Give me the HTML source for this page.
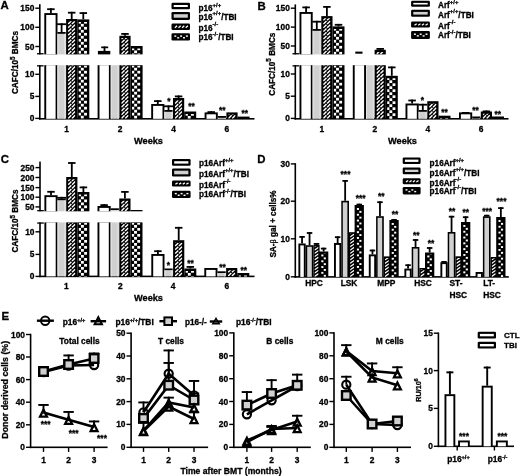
<!DOCTYPE html>
<html><head><meta charset="utf-8"><style>
html,body{margin:0;padding:0;background:#fff;width:520px;height:476px;overflow:hidden;}
svg{display:block;font-family:"Liberation Sans",sans-serif;will-change:transform;}
text{stroke:#000;stroke-width:0.3px;}
</style></head><body>
<svg width="520" height="476" viewBox="0 0 520 476" font-family="Liberation Sans, sans-serif" font-weight="bold">

<rect width="520" height="476" fill="#fff"/>
<text x="0.60" y="8.60" font-size="11.4" text-anchor="start" >A</text>
<text x="257.40" y="9.60" font-size="11.4" text-anchor="start" >B</text>
<rect x="39.00" y="4.20" width="1.60" height="50.20" fill="#000"/>
<rect x="39.00" y="65.20" width="1.60" height="54.40" fill="#000"/>
<rect x="37.00" y="53.10" width="6.60" height="1.30" fill="#000"/>
<rect x="37.00" y="65.20" width="6.60" height="1.30" fill="#000"/>
<rect x="39.00" y="118.00" width="215.50" height="1.60" fill="#000"/>
<rect x="35.30" y="7.50" width="4.50" height="1.40" fill="#000"/>
<text x="34.30" y="11.20" font-size="8.4" text-anchor="end" >150</text>
<rect x="35.30" y="26.60" width="4.50" height="1.40" fill="#000"/>
<text x="34.30" y="30.30" font-size="8.4" text-anchor="end" >100</text>
<rect x="35.30" y="45.80" width="4.50" height="1.40" fill="#000"/>
<text x="34.30" y="49.50" font-size="8.4" text-anchor="end" >50</text>
<rect x="35.30" y="73.60" width="4.50" height="1.40" fill="#000"/>
<text x="34.30" y="77.30" font-size="8.4" text-anchor="end" >10</text>
<rect x="35.30" y="95.70" width="4.50" height="1.40" fill="#000"/>
<text x="34.30" y="99.40" font-size="8.4" text-anchor="end" >5</text>
<rect x="35.30" y="117.70" width="4.50" height="1.40" fill="#000"/>
<text x="34.30" y="121.40" font-size="8.4" text-anchor="end" >0</text>
<rect x="44.30" y="13.10" width="13.20" height="41.30" fill="#000"/>
<rect x="46.20" y="15.00" width="9.40" height="39.40" fill="#fff"/>
<rect x="44.30" y="65.20" width="13.20" height="53.60" fill="#000"/>
<rect x="46.20" y="65.20" width="9.40" height="53.60" fill="#fff"/>
<rect x="50.00" y="8.30" width="1.80" height="4.80" fill="#000"/>
<rect x="47.15" y="8.30" width="7.50" height="1.80" fill="#000"/>
<rect x="57.50" y="32.00" width="8.20" height="1.90" fill="#000"/>
<rect x="57.50" y="33.90" width="8.20" height="20.50" fill="#d0d0d0"/>
<rect x="57.50" y="33.90" width="1.00" height="20.50" fill="#e4e4e4"/>
<rect x="64.30" y="33.90" width="1.00" height="20.50" fill="#e4e4e4"/>
<rect x="57.50" y="65.20" width="8.20" height="53.60" fill="#d0d0d0"/>
<rect x="57.50" y="65.20" width="1.00" height="53.60" fill="#e4e4e4"/>
<rect x="64.30" y="65.20" width="1.00" height="53.60" fill="#e4e4e4"/>
<rect x="60.70" y="23.30" width="1.80" height="8.70" fill="#000"/>
<rect x="57.10" y="23.30" width="9.00" height="1.80" fill="#000"/>
<rect x="66.10" y="19.00" width="11.20" height="35.40" fill="#000"/>
<clipPath id="c1"><rect x="67.90" y="21.20" width="7.40" height="33.20"/></clipPath><g clip-path="url(#c1)">
<line x1="68.15" y1="54.05" x2="71.30" y2="50.90" stroke="#fff" stroke-width="1.4"/>
<line x1="71.95" y1="54.05" x2="75.10" y2="50.90" stroke="#fff" stroke-width="1.4"/>
<line x1="68.15" y1="50.30" x2="71.30" y2="47.15" stroke="#fff" stroke-width="1.4"/>
<line x1="71.95" y1="50.30" x2="75.10" y2="47.15" stroke="#fff" stroke-width="1.4"/>
<line x1="68.15" y1="46.55" x2="71.30" y2="43.40" stroke="#fff" stroke-width="1.4"/>
<line x1="71.95" y1="46.55" x2="75.10" y2="43.40" stroke="#fff" stroke-width="1.4"/>
<line x1="68.15" y1="42.80" x2="71.30" y2="39.65" stroke="#fff" stroke-width="1.4"/>
<line x1="71.95" y1="42.80" x2="75.10" y2="39.65" stroke="#fff" stroke-width="1.4"/>
<line x1="68.15" y1="39.05" x2="71.30" y2="35.90" stroke="#fff" stroke-width="1.4"/>
<line x1="71.95" y1="39.05" x2="75.10" y2="35.90" stroke="#fff" stroke-width="1.4"/>
<line x1="68.15" y1="35.30" x2="71.30" y2="32.15" stroke="#fff" stroke-width="1.4"/>
<line x1="71.95" y1="35.30" x2="75.10" y2="32.15" stroke="#fff" stroke-width="1.4"/>
<line x1="68.15" y1="31.55" x2="71.30" y2="28.40" stroke="#fff" stroke-width="1.4"/>
<line x1="71.95" y1="31.55" x2="75.10" y2="28.40" stroke="#fff" stroke-width="1.4"/>
<line x1="68.15" y1="27.80" x2="71.30" y2="24.65" stroke="#fff" stroke-width="1.4"/>
<line x1="71.95" y1="27.80" x2="75.10" y2="24.65" stroke="#fff" stroke-width="1.4"/>
<line x1="68.15" y1="24.05" x2="71.30" y2="20.90" stroke="#fff" stroke-width="1.4"/>
<line x1="71.95" y1="24.05" x2="75.10" y2="20.90" stroke="#fff" stroke-width="1.4"/>
<line x1="68.15" y1="20.30" x2="71.30" y2="17.15" stroke="#fff" stroke-width="1.4"/>
<line x1="71.95" y1="20.30" x2="75.10" y2="17.15" stroke="#fff" stroke-width="1.4"/>
</g>
<rect x="66.10" y="65.20" width="11.20" height="53.60" fill="#000"/>
<clipPath id="c2"><rect x="67.90" y="65.50" width="7.40" height="53.30"/></clipPath><g clip-path="url(#c2)">
<line x1="68.15" y1="118.45" x2="71.30" y2="115.30" stroke="#fff" stroke-width="1.4"/>
<line x1="71.95" y1="118.45" x2="75.10" y2="115.30" stroke="#fff" stroke-width="1.4"/>
<line x1="68.15" y1="114.70" x2="71.30" y2="111.55" stroke="#fff" stroke-width="1.4"/>
<line x1="71.95" y1="114.70" x2="75.10" y2="111.55" stroke="#fff" stroke-width="1.4"/>
<line x1="68.15" y1="110.95" x2="71.30" y2="107.80" stroke="#fff" stroke-width="1.4"/>
<line x1="71.95" y1="110.95" x2="75.10" y2="107.80" stroke="#fff" stroke-width="1.4"/>
<line x1="68.15" y1="107.20" x2="71.30" y2="104.05" stroke="#fff" stroke-width="1.4"/>
<line x1="71.95" y1="107.20" x2="75.10" y2="104.05" stroke="#fff" stroke-width="1.4"/>
<line x1="68.15" y1="103.45" x2="71.30" y2="100.30" stroke="#fff" stroke-width="1.4"/>
<line x1="71.95" y1="103.45" x2="75.10" y2="100.30" stroke="#fff" stroke-width="1.4"/>
<line x1="68.15" y1="99.70" x2="71.30" y2="96.55" stroke="#fff" stroke-width="1.4"/>
<line x1="71.95" y1="99.70" x2="75.10" y2="96.55" stroke="#fff" stroke-width="1.4"/>
<line x1="68.15" y1="95.95" x2="71.30" y2="92.80" stroke="#fff" stroke-width="1.4"/>
<line x1="71.95" y1="95.95" x2="75.10" y2="92.80" stroke="#fff" stroke-width="1.4"/>
<line x1="68.15" y1="92.20" x2="71.30" y2="89.05" stroke="#fff" stroke-width="1.4"/>
<line x1="71.95" y1="92.20" x2="75.10" y2="89.05" stroke="#fff" stroke-width="1.4"/>
<line x1="68.15" y1="88.45" x2="71.30" y2="85.30" stroke="#fff" stroke-width="1.4"/>
<line x1="71.95" y1="88.45" x2="75.10" y2="85.30" stroke="#fff" stroke-width="1.4"/>
<line x1="68.15" y1="84.70" x2="71.30" y2="81.55" stroke="#fff" stroke-width="1.4"/>
<line x1="71.95" y1="84.70" x2="75.10" y2="81.55" stroke="#fff" stroke-width="1.4"/>
<line x1="68.15" y1="80.95" x2="71.30" y2="77.80" stroke="#fff" stroke-width="1.4"/>
<line x1="71.95" y1="80.95" x2="75.10" y2="77.80" stroke="#fff" stroke-width="1.4"/>
<line x1="68.15" y1="77.20" x2="71.30" y2="74.05" stroke="#fff" stroke-width="1.4"/>
<line x1="71.95" y1="77.20" x2="75.10" y2="74.05" stroke="#fff" stroke-width="1.4"/>
<line x1="68.15" y1="73.45" x2="71.30" y2="70.30" stroke="#fff" stroke-width="1.4"/>
<line x1="71.95" y1="73.45" x2="75.10" y2="70.30" stroke="#fff" stroke-width="1.4"/>
<line x1="68.15" y1="69.70" x2="71.30" y2="66.55" stroke="#fff" stroke-width="1.4"/>
<line x1="71.95" y1="69.70" x2="75.10" y2="66.55" stroke="#fff" stroke-width="1.4"/>
<line x1="68.15" y1="65.95" x2="71.30" y2="62.80" stroke="#fff" stroke-width="1.4"/>
<line x1="71.95" y1="65.95" x2="75.10" y2="62.80" stroke="#fff" stroke-width="1.4"/>
<line x1="68.15" y1="62.20" x2="71.30" y2="59.05" stroke="#fff" stroke-width="1.4"/>
<line x1="71.95" y1="62.20" x2="75.10" y2="59.05" stroke="#fff" stroke-width="1.4"/>
</g>
<rect x="70.80" y="11.80" width="1.80" height="7.20" fill="#000"/>
<rect x="67.95" y="11.80" width="7.50" height="1.80" fill="#000"/>
<rect x="77.30" y="19.40" width="12.00" height="35.00" fill="#000"/>
<clipPath id="c3"><rect x="78.70" y="21.90" width="8.70" height="32.50"/></clipPath><g clip-path="url(#c3)">
<rect x="80.85" y="17.90" width="2.9" height="2.7" fill="#fff"/>
<rect x="80.85" y="23.90" width="2.9" height="2.7" fill="#fff"/>
<rect x="80.85" y="29.90" width="2.9" height="2.7" fill="#fff"/>
<rect x="80.85" y="35.90" width="2.9" height="2.7" fill="#fff"/>
<rect x="80.85" y="41.90" width="2.9" height="2.7" fill="#fff"/>
<rect x="80.85" y="47.90" width="2.9" height="2.7" fill="#fff"/>
<rect x="80.85" y="53.90" width="2.9" height="2.7" fill="#fff"/>
<rect x="78.05" y="20.90" width="2.9" height="2.7" fill="#fff"/>
<rect x="78.05" y="26.90" width="2.9" height="2.7" fill="#fff"/>
<rect x="78.05" y="32.90" width="2.9" height="2.7" fill="#fff"/>
<rect x="78.05" y="38.90" width="2.9" height="2.7" fill="#fff"/>
<rect x="78.05" y="44.90" width="2.9" height="2.7" fill="#fff"/>
<rect x="78.05" y="50.90" width="2.9" height="2.7" fill="#fff"/>
<rect x="84.05" y="20.90" width="2.9" height="2.7" fill="#fff"/>
<rect x="84.05" y="26.90" width="2.9" height="2.7" fill="#fff"/>
<rect x="84.05" y="32.90" width="2.9" height="2.7" fill="#fff"/>
<rect x="84.05" y="38.90" width="2.9" height="2.7" fill="#fff"/>
<rect x="84.05" y="44.90" width="2.9" height="2.7" fill="#fff"/>
<rect x="84.05" y="50.90" width="2.9" height="2.7" fill="#fff"/>
</g>
<rect x="77.30" y="65.20" width="12.00" height="53.60" fill="#000"/>
<clipPath id="c4"><rect x="78.70" y="65.80" width="8.70" height="53.00"/></clipPath><g clip-path="url(#c4)">
<rect x="80.85" y="61.80" width="2.9" height="2.7" fill="#fff"/>
<rect x="80.85" y="67.80" width="2.9" height="2.7" fill="#fff"/>
<rect x="80.85" y="73.80" width="2.9" height="2.7" fill="#fff"/>
<rect x="80.85" y="79.80" width="2.9" height="2.7" fill="#fff"/>
<rect x="80.85" y="85.80" width="2.9" height="2.7" fill="#fff"/>
<rect x="80.85" y="91.80" width="2.9" height="2.7" fill="#fff"/>
<rect x="80.85" y="97.80" width="2.9" height="2.7" fill="#fff"/>
<rect x="80.85" y="103.80" width="2.9" height="2.7" fill="#fff"/>
<rect x="80.85" y="109.80" width="2.9" height="2.7" fill="#fff"/>
<rect x="80.85" y="115.80" width="2.9" height="2.7" fill="#fff"/>
<rect x="78.05" y="64.80" width="2.9" height="2.7" fill="#fff"/>
<rect x="78.05" y="70.80" width="2.9" height="2.7" fill="#fff"/>
<rect x="78.05" y="76.80" width="2.9" height="2.7" fill="#fff"/>
<rect x="78.05" y="82.80" width="2.9" height="2.7" fill="#fff"/>
<rect x="78.05" y="88.80" width="2.9" height="2.7" fill="#fff"/>
<rect x="78.05" y="94.80" width="2.9" height="2.7" fill="#fff"/>
<rect x="78.05" y="100.80" width="2.9" height="2.7" fill="#fff"/>
<rect x="78.05" y="106.80" width="2.9" height="2.7" fill="#fff"/>
<rect x="78.05" y="112.80" width="2.9" height="2.7" fill="#fff"/>
<rect x="84.05" y="64.80" width="2.9" height="2.7" fill="#fff"/>
<rect x="84.05" y="70.80" width="2.9" height="2.7" fill="#fff"/>
<rect x="84.05" y="76.80" width="2.9" height="2.7" fill="#fff"/>
<rect x="84.05" y="82.80" width="2.9" height="2.7" fill="#fff"/>
<rect x="84.05" y="88.80" width="2.9" height="2.7" fill="#fff"/>
<rect x="84.05" y="94.80" width="2.9" height="2.7" fill="#fff"/>
<rect x="84.05" y="100.80" width="2.9" height="2.7" fill="#fff"/>
<rect x="84.05" y="106.80" width="2.9" height="2.7" fill="#fff"/>
<rect x="84.05" y="112.80" width="2.9" height="2.7" fill="#fff"/>
</g>
<rect x="82.40" y="12.20" width="1.80" height="7.20" fill="#000"/>
<rect x="79.55" y="12.20" width="7.50" height="1.80" fill="#000"/>
<rect x="97.60" y="65.20" width="13.20" height="53.60" fill="#000"/>
<rect x="99.50" y="65.20" width="9.40" height="53.60" fill="#fff"/>
<rect x="110.80" y="65.20" width="8.20" height="53.60" fill="#d0d0d0"/>
<rect x="110.80" y="65.20" width="1.00" height="53.60" fill="#e4e4e4"/>
<rect x="117.60" y="65.20" width="1.00" height="53.60" fill="#e4e4e4"/>
<rect x="119.40" y="35.80" width="11.20" height="18.60" fill="#000"/>
<clipPath id="c5"><rect x="121.20" y="38.00" width="7.40" height="16.40"/></clipPath><g clip-path="url(#c5)">
<line x1="121.45" y1="54.05" x2="124.60" y2="50.90" stroke="#fff" stroke-width="1.4"/>
<line x1="125.25" y1="54.05" x2="128.40" y2="50.90" stroke="#fff" stroke-width="1.4"/>
<line x1="121.45" y1="50.30" x2="124.60" y2="47.15" stroke="#fff" stroke-width="1.4"/>
<line x1="125.25" y1="50.30" x2="128.40" y2="47.15" stroke="#fff" stroke-width="1.4"/>
<line x1="121.45" y1="46.55" x2="124.60" y2="43.40" stroke="#fff" stroke-width="1.4"/>
<line x1="125.25" y1="46.55" x2="128.40" y2="43.40" stroke="#fff" stroke-width="1.4"/>
<line x1="121.45" y1="42.80" x2="124.60" y2="39.65" stroke="#fff" stroke-width="1.4"/>
<line x1="125.25" y1="42.80" x2="128.40" y2="39.65" stroke="#fff" stroke-width="1.4"/>
<line x1="121.45" y1="39.05" x2="124.60" y2="35.90" stroke="#fff" stroke-width="1.4"/>
<line x1="125.25" y1="39.05" x2="128.40" y2="35.90" stroke="#fff" stroke-width="1.4"/>
<line x1="121.45" y1="35.30" x2="124.60" y2="32.15" stroke="#fff" stroke-width="1.4"/>
<line x1="125.25" y1="35.30" x2="128.40" y2="32.15" stroke="#fff" stroke-width="1.4"/>
</g>
<rect x="119.40" y="65.20" width="11.20" height="53.60" fill="#000"/>
<clipPath id="c6"><rect x="121.20" y="65.50" width="7.40" height="53.30"/></clipPath><g clip-path="url(#c6)">
<line x1="121.45" y1="118.45" x2="124.60" y2="115.30" stroke="#fff" stroke-width="1.4"/>
<line x1="125.25" y1="118.45" x2="128.40" y2="115.30" stroke="#fff" stroke-width="1.4"/>
<line x1="121.45" y1="114.70" x2="124.60" y2="111.55" stroke="#fff" stroke-width="1.4"/>
<line x1="125.25" y1="114.70" x2="128.40" y2="111.55" stroke="#fff" stroke-width="1.4"/>
<line x1="121.45" y1="110.95" x2="124.60" y2="107.80" stroke="#fff" stroke-width="1.4"/>
<line x1="125.25" y1="110.95" x2="128.40" y2="107.80" stroke="#fff" stroke-width="1.4"/>
<line x1="121.45" y1="107.20" x2="124.60" y2="104.05" stroke="#fff" stroke-width="1.4"/>
<line x1="125.25" y1="107.20" x2="128.40" y2="104.05" stroke="#fff" stroke-width="1.4"/>
<line x1="121.45" y1="103.45" x2="124.60" y2="100.30" stroke="#fff" stroke-width="1.4"/>
<line x1="125.25" y1="103.45" x2="128.40" y2="100.30" stroke="#fff" stroke-width="1.4"/>
<line x1="121.45" y1="99.70" x2="124.60" y2="96.55" stroke="#fff" stroke-width="1.4"/>
<line x1="125.25" y1="99.70" x2="128.40" y2="96.55" stroke="#fff" stroke-width="1.4"/>
<line x1="121.45" y1="95.95" x2="124.60" y2="92.80" stroke="#fff" stroke-width="1.4"/>
<line x1="125.25" y1="95.95" x2="128.40" y2="92.80" stroke="#fff" stroke-width="1.4"/>
<line x1="121.45" y1="92.20" x2="124.60" y2="89.05" stroke="#fff" stroke-width="1.4"/>
<line x1="125.25" y1="92.20" x2="128.40" y2="89.05" stroke="#fff" stroke-width="1.4"/>
<line x1="121.45" y1="88.45" x2="124.60" y2="85.30" stroke="#fff" stroke-width="1.4"/>
<line x1="125.25" y1="88.45" x2="128.40" y2="85.30" stroke="#fff" stroke-width="1.4"/>
<line x1="121.45" y1="84.70" x2="124.60" y2="81.55" stroke="#fff" stroke-width="1.4"/>
<line x1="125.25" y1="84.70" x2="128.40" y2="81.55" stroke="#fff" stroke-width="1.4"/>
<line x1="121.45" y1="80.95" x2="124.60" y2="77.80" stroke="#fff" stroke-width="1.4"/>
<line x1="125.25" y1="80.95" x2="128.40" y2="77.80" stroke="#fff" stroke-width="1.4"/>
<line x1="121.45" y1="77.20" x2="124.60" y2="74.05" stroke="#fff" stroke-width="1.4"/>
<line x1="125.25" y1="77.20" x2="128.40" y2="74.05" stroke="#fff" stroke-width="1.4"/>
<line x1="121.45" y1="73.45" x2="124.60" y2="70.30" stroke="#fff" stroke-width="1.4"/>
<line x1="125.25" y1="73.45" x2="128.40" y2="70.30" stroke="#fff" stroke-width="1.4"/>
<line x1="121.45" y1="69.70" x2="124.60" y2="66.55" stroke="#fff" stroke-width="1.4"/>
<line x1="125.25" y1="69.70" x2="128.40" y2="66.55" stroke="#fff" stroke-width="1.4"/>
<line x1="121.45" y1="65.95" x2="124.60" y2="62.80" stroke="#fff" stroke-width="1.4"/>
<line x1="125.25" y1="65.95" x2="128.40" y2="62.80" stroke="#fff" stroke-width="1.4"/>
<line x1="121.45" y1="62.20" x2="124.60" y2="59.05" stroke="#fff" stroke-width="1.4"/>
<line x1="125.25" y1="62.20" x2="128.40" y2="59.05" stroke="#fff" stroke-width="1.4"/>
</g>
<rect x="124.10" y="33.00" width="1.80" height="2.80" fill="#000"/>
<rect x="121.25" y="33.00" width="7.50" height="1.80" fill="#000"/>
<rect x="130.60" y="46.00" width="12.00" height="8.40" fill="#000"/>
<clipPath id="c7"><rect x="132.00" y="48.50" width="8.70" height="5.90"/></clipPath><g clip-path="url(#c7)">
<rect x="134.15" y="44.50" width="2.9" height="2.7" fill="#fff"/>
<rect x="134.15" y="50.50" width="2.9" height="2.7" fill="#fff"/>
<rect x="131.35" y="47.50" width="2.9" height="2.7" fill="#fff"/>
<rect x="131.35" y="53.50" width="2.9" height="2.7" fill="#fff"/>
<rect x="137.35" y="47.50" width="2.9" height="2.7" fill="#fff"/>
<rect x="137.35" y="53.50" width="2.9" height="2.7" fill="#fff"/>
</g>
<rect x="130.60" y="65.20" width="12.00" height="53.60" fill="#000"/>
<clipPath id="c8"><rect x="132.00" y="65.80" width="8.70" height="53.00"/></clipPath><g clip-path="url(#c8)">
<rect x="134.15" y="61.80" width="2.9" height="2.7" fill="#fff"/>
<rect x="134.15" y="67.80" width="2.9" height="2.7" fill="#fff"/>
<rect x="134.15" y="73.80" width="2.9" height="2.7" fill="#fff"/>
<rect x="134.15" y="79.80" width="2.9" height="2.7" fill="#fff"/>
<rect x="134.15" y="85.80" width="2.9" height="2.7" fill="#fff"/>
<rect x="134.15" y="91.80" width="2.9" height="2.7" fill="#fff"/>
<rect x="134.15" y="97.80" width="2.9" height="2.7" fill="#fff"/>
<rect x="134.15" y="103.80" width="2.9" height="2.7" fill="#fff"/>
<rect x="134.15" y="109.80" width="2.9" height="2.7" fill="#fff"/>
<rect x="134.15" y="115.80" width="2.9" height="2.7" fill="#fff"/>
<rect x="131.35" y="64.80" width="2.9" height="2.7" fill="#fff"/>
<rect x="131.35" y="70.80" width="2.9" height="2.7" fill="#fff"/>
<rect x="131.35" y="76.80" width="2.9" height="2.7" fill="#fff"/>
<rect x="131.35" y="82.80" width="2.9" height="2.7" fill="#fff"/>
<rect x="131.35" y="88.80" width="2.9" height="2.7" fill="#fff"/>
<rect x="131.35" y="94.80" width="2.9" height="2.7" fill="#fff"/>
<rect x="131.35" y="100.80" width="2.9" height="2.7" fill="#fff"/>
<rect x="131.35" y="106.80" width="2.9" height="2.7" fill="#fff"/>
<rect x="131.35" y="112.80" width="2.9" height="2.7" fill="#fff"/>
<rect x="137.35" y="64.80" width="2.9" height="2.7" fill="#fff"/>
<rect x="137.35" y="70.80" width="2.9" height="2.7" fill="#fff"/>
<rect x="137.35" y="76.80" width="2.9" height="2.7" fill="#fff"/>
<rect x="137.35" y="82.80" width="2.9" height="2.7" fill="#fff"/>
<rect x="137.35" y="88.80" width="2.9" height="2.7" fill="#fff"/>
<rect x="137.35" y="94.80" width="2.9" height="2.7" fill="#fff"/>
<rect x="137.35" y="100.80" width="2.9" height="2.7" fill="#fff"/>
<rect x="137.35" y="106.80" width="2.9" height="2.7" fill="#fff"/>
<rect x="137.35" y="112.80" width="2.9" height="2.7" fill="#fff"/>
</g>
<rect x="151.20" y="104.00" width="13.20" height="14.80" fill="#000"/>
<rect x="153.10" y="105.90" width="9.40" height="12.90" fill="#fff"/>
<rect x="156.90" y="100.20" width="1.80" height="3.80" fill="#000"/>
<rect x="154.05" y="100.20" width="7.50" height="1.80" fill="#000"/>
<rect x="164.40" y="110.00" width="8.20" height="1.90" fill="#000"/>
<rect x="164.40" y="111.90" width="8.20" height="6.90" fill="#d0d0d0"/>
<rect x="164.40" y="111.90" width="1.00" height="6.90" fill="#e4e4e4"/>
<rect x="171.20" y="111.90" width="1.00" height="6.90" fill="#e4e4e4"/>
<rect x="167.60" y="105.40" width="1.80" height="4.60" fill="#000"/>
<rect x="164.00" y="105.40" width="9.00" height="1.80" fill="#000"/>
<rect x="173.00" y="98.00" width="11.20" height="20.80" fill="#000"/>
<clipPath id="c9"><rect x="174.80" y="100.20" width="7.40" height="18.60"/></clipPath><g clip-path="url(#c9)">
<line x1="175.05" y1="118.45" x2="178.20" y2="115.30" stroke="#fff" stroke-width="1.4"/>
<line x1="178.85" y1="118.45" x2="182.00" y2="115.30" stroke="#fff" stroke-width="1.4"/>
<line x1="175.05" y1="114.70" x2="178.20" y2="111.55" stroke="#fff" stroke-width="1.4"/>
<line x1="178.85" y1="114.70" x2="182.00" y2="111.55" stroke="#fff" stroke-width="1.4"/>
<line x1="175.05" y1="110.95" x2="178.20" y2="107.80" stroke="#fff" stroke-width="1.4"/>
<line x1="178.85" y1="110.95" x2="182.00" y2="107.80" stroke="#fff" stroke-width="1.4"/>
<line x1="175.05" y1="107.20" x2="178.20" y2="104.05" stroke="#fff" stroke-width="1.4"/>
<line x1="178.85" y1="107.20" x2="182.00" y2="104.05" stroke="#fff" stroke-width="1.4"/>
<line x1="175.05" y1="103.45" x2="178.20" y2="100.30" stroke="#fff" stroke-width="1.4"/>
<line x1="178.85" y1="103.45" x2="182.00" y2="100.30" stroke="#fff" stroke-width="1.4"/>
<line x1="175.05" y1="99.70" x2="178.20" y2="96.55" stroke="#fff" stroke-width="1.4"/>
<line x1="178.85" y1="99.70" x2="182.00" y2="96.55" stroke="#fff" stroke-width="1.4"/>
</g>
<rect x="177.70" y="95.50" width="1.80" height="2.50" fill="#000"/>
<rect x="174.85" y="95.50" width="7.50" height="1.80" fill="#000"/>
<rect x="184.20" y="111.50" width="12.00" height="7.30" fill="#000"/>
<clipPath id="c10"><rect x="185.60" y="114.00" width="8.70" height="4.80"/></clipPath><g clip-path="url(#c10)">
<rect x="187.75" y="110.00" width="2.9" height="2.7" fill="#fff"/>
<rect x="187.75" y="116.00" width="2.9" height="2.7" fill="#fff"/>
<rect x="184.95" y="113.00" width="2.9" height="2.7" fill="#fff"/>
<rect x="190.95" y="113.00" width="2.9" height="2.7" fill="#fff"/>
</g>
<rect x="204.60" y="112.40" width="13.20" height="6.40" fill="#000"/>
<rect x="206.50" y="114.30" width="9.40" height="4.50" fill="#fff"/>
<rect x="210.30" y="111.20" width="1.80" height="1.20" fill="#000"/>
<rect x="207.45" y="111.20" width="7.50" height="1.80" fill="#000"/>
<rect x="217.80" y="116.00" width="8.20" height="1.90" fill="#000"/>
<rect x="217.80" y="117.90" width="8.20" height="0.90" fill="#d0d0d0"/>
<rect x="217.80" y="117.90" width="1.00" height="0.90" fill="#e4e4e4"/>
<rect x="224.60" y="117.90" width="1.00" height="0.90" fill="#e4e4e4"/>
<rect x="226.40" y="112.40" width="11.20" height="6.40" fill="#000"/>
<clipPath id="c11"><rect x="228.20" y="114.60" width="7.40" height="4.20"/></clipPath><g clip-path="url(#c11)">
<line x1="228.45" y1="118.45" x2="231.60" y2="115.30" stroke="#fff" stroke-width="1.4"/>
<line x1="232.25" y1="118.45" x2="235.40" y2="115.30" stroke="#fff" stroke-width="1.4"/>
<line x1="228.45" y1="114.70" x2="231.60" y2="111.55" stroke="#fff" stroke-width="1.4"/>
<line x1="232.25" y1="114.70" x2="235.40" y2="111.55" stroke="#fff" stroke-width="1.4"/>
<line x1="228.45" y1="110.95" x2="231.60" y2="107.80" stroke="#fff" stroke-width="1.4"/>
<line x1="232.25" y1="110.95" x2="235.40" y2="107.80" stroke="#fff" stroke-width="1.4"/>
</g>
<rect x="237.60" y="116.60" width="12.00" height="2.20" fill="#000"/>
<clipPath id="c12"><rect x="239.00" y="119.10" width="8.70" height="-0.30"/></clipPath><g clip-path="url(#c12)">
<rect x="241.15" y="115.10" width="2.9" height="2.7" fill="#fff"/>
<rect x="238.35" y="118.10" width="2.9" height="2.7" fill="#fff"/>
<rect x="244.35" y="118.10" width="2.9" height="2.7" fill="#fff"/>
</g>
<rect x="97.90" y="50.90" width="12.40" height="3.50" fill="#000"/>
<rect x="103.60" y="46.50" width="1.80" height="4.50" fill="#000"/>
<rect x="101.20" y="46.50" width="7.00" height="1.70" fill="#000"/>
<text x="66.50" y="131.90" font-size="8.4" text-anchor="middle" >1</text>
<text x="120.00" y="131.90" font-size="8.4" text-anchor="middle" >2</text>
<text x="173.50" y="131.90" font-size="8.4" text-anchor="middle" >4</text>
<text x="226.80" y="131.90" font-size="8.4" text-anchor="middle" >6</text>
<text x="148.50" y="143.80" font-size="9.2" text-anchor="middle" >Weeks</text>
<text x="169.00" y="104.00" font-size="8.4" text-anchor="middle" >*</text>
<text x="191.50" y="109.00" font-size="8.4" text-anchor="middle" >**</text>
<text x="222.30" y="113.00" font-size="8.4" text-anchor="middle" >**</text>
<text x="244.80" y="115.50" font-size="8.4" text-anchor="middle" >**</text>
<rect x="294.50" y="4.40" width="1.60" height="50.00" fill="#000"/>
<rect x="294.50" y="65.20" width="1.60" height="54.40" fill="#000"/>
<rect x="292.50" y="53.10" width="6.60" height="1.30" fill="#000"/>
<rect x="292.50" y="65.20" width="6.60" height="1.30" fill="#000"/>
<rect x="294.50" y="118.00" width="214.00" height="1.60" fill="#000"/>
<rect x="290.80" y="7.50" width="4.50" height="1.40" fill="#000"/>
<text x="289.80" y="11.20" font-size="8.4" text-anchor="end" >150</text>
<rect x="290.80" y="26.40" width="4.50" height="1.40" fill="#000"/>
<text x="289.80" y="30.10" font-size="8.4" text-anchor="end" >100</text>
<rect x="290.80" y="45.30" width="4.50" height="1.40" fill="#000"/>
<text x="289.80" y="49.00" font-size="8.4" text-anchor="end" >50</text>
<rect x="290.80" y="73.30" width="4.50" height="1.40" fill="#000"/>
<text x="289.80" y="77.00" font-size="8.4" text-anchor="end" >10</text>
<rect x="290.80" y="95.50" width="4.50" height="1.40" fill="#000"/>
<text x="289.80" y="99.20" font-size="8.4" text-anchor="end" >5</text>
<rect x="290.80" y="117.70" width="4.50" height="1.40" fill="#000"/>
<text x="289.80" y="121.40" font-size="8.4" text-anchor="end" >0</text>
<rect x="299.50" y="12.00" width="13.20" height="42.40" fill="#000"/>
<rect x="301.40" y="13.90" width="9.40" height="40.50" fill="#fff"/>
<rect x="299.50" y="65.20" width="13.20" height="53.60" fill="#000"/>
<rect x="301.40" y="65.20" width="9.40" height="53.60" fill="#fff"/>
<rect x="305.20" y="6.50" width="1.80" height="5.50" fill="#000"/>
<rect x="302.35" y="6.50" width="7.50" height="1.80" fill="#000"/>
<rect x="312.70" y="29.00" width="8.20" height="1.90" fill="#000"/>
<rect x="312.70" y="30.90" width="8.20" height="23.50" fill="#d0d0d0"/>
<rect x="312.70" y="30.90" width="1.00" height="23.50" fill="#e4e4e4"/>
<rect x="319.50" y="30.90" width="1.00" height="23.50" fill="#e4e4e4"/>
<rect x="312.70" y="65.20" width="8.20" height="53.60" fill="#d0d0d0"/>
<rect x="312.70" y="65.20" width="1.00" height="53.60" fill="#e4e4e4"/>
<rect x="319.50" y="65.20" width="1.00" height="53.60" fill="#e4e4e4"/>
<rect x="315.90" y="20.80" width="1.80" height="8.20" fill="#000"/>
<rect x="312.30" y="20.80" width="9.00" height="1.80" fill="#000"/>
<rect x="321.30" y="16.10" width="11.20" height="38.30" fill="#000"/>
<clipPath id="c13"><rect x="323.10" y="18.30" width="7.40" height="36.10"/></clipPath><g clip-path="url(#c13)">
<line x1="323.35" y1="54.05" x2="326.50" y2="50.90" stroke="#fff" stroke-width="1.4"/>
<line x1="327.15" y1="54.05" x2="330.30" y2="50.90" stroke="#fff" stroke-width="1.4"/>
<line x1="323.35" y1="50.30" x2="326.50" y2="47.15" stroke="#fff" stroke-width="1.4"/>
<line x1="327.15" y1="50.30" x2="330.30" y2="47.15" stroke="#fff" stroke-width="1.4"/>
<line x1="323.35" y1="46.55" x2="326.50" y2="43.40" stroke="#fff" stroke-width="1.4"/>
<line x1="327.15" y1="46.55" x2="330.30" y2="43.40" stroke="#fff" stroke-width="1.4"/>
<line x1="323.35" y1="42.80" x2="326.50" y2="39.65" stroke="#fff" stroke-width="1.4"/>
<line x1="327.15" y1="42.80" x2="330.30" y2="39.65" stroke="#fff" stroke-width="1.4"/>
<line x1="323.35" y1="39.05" x2="326.50" y2="35.90" stroke="#fff" stroke-width="1.4"/>
<line x1="327.15" y1="39.05" x2="330.30" y2="35.90" stroke="#fff" stroke-width="1.4"/>
<line x1="323.35" y1="35.30" x2="326.50" y2="32.15" stroke="#fff" stroke-width="1.4"/>
<line x1="327.15" y1="35.30" x2="330.30" y2="32.15" stroke="#fff" stroke-width="1.4"/>
<line x1="323.35" y1="31.55" x2="326.50" y2="28.40" stroke="#fff" stroke-width="1.4"/>
<line x1="327.15" y1="31.55" x2="330.30" y2="28.40" stroke="#fff" stroke-width="1.4"/>
<line x1="323.35" y1="27.80" x2="326.50" y2="24.65" stroke="#fff" stroke-width="1.4"/>
<line x1="327.15" y1="27.80" x2="330.30" y2="24.65" stroke="#fff" stroke-width="1.4"/>
<line x1="323.35" y1="24.05" x2="326.50" y2="20.90" stroke="#fff" stroke-width="1.4"/>
<line x1="327.15" y1="24.05" x2="330.30" y2="20.90" stroke="#fff" stroke-width="1.4"/>
<line x1="323.35" y1="20.30" x2="326.50" y2="17.15" stroke="#fff" stroke-width="1.4"/>
<line x1="327.15" y1="20.30" x2="330.30" y2="17.15" stroke="#fff" stroke-width="1.4"/>
<line x1="323.35" y1="16.55" x2="326.50" y2="13.40" stroke="#fff" stroke-width="1.4"/>
<line x1="327.15" y1="16.55" x2="330.30" y2="13.40" stroke="#fff" stroke-width="1.4"/>
</g>
<rect x="321.30" y="65.20" width="11.20" height="53.60" fill="#000"/>
<clipPath id="c14"><rect x="323.10" y="65.50" width="7.40" height="53.30"/></clipPath><g clip-path="url(#c14)">
<line x1="323.35" y1="118.45" x2="326.50" y2="115.30" stroke="#fff" stroke-width="1.4"/>
<line x1="327.15" y1="118.45" x2="330.30" y2="115.30" stroke="#fff" stroke-width="1.4"/>
<line x1="323.35" y1="114.70" x2="326.50" y2="111.55" stroke="#fff" stroke-width="1.4"/>
<line x1="327.15" y1="114.70" x2="330.30" y2="111.55" stroke="#fff" stroke-width="1.4"/>
<line x1="323.35" y1="110.95" x2="326.50" y2="107.80" stroke="#fff" stroke-width="1.4"/>
<line x1="327.15" y1="110.95" x2="330.30" y2="107.80" stroke="#fff" stroke-width="1.4"/>
<line x1="323.35" y1="107.20" x2="326.50" y2="104.05" stroke="#fff" stroke-width="1.4"/>
<line x1="327.15" y1="107.20" x2="330.30" y2="104.05" stroke="#fff" stroke-width="1.4"/>
<line x1="323.35" y1="103.45" x2="326.50" y2="100.30" stroke="#fff" stroke-width="1.4"/>
<line x1="327.15" y1="103.45" x2="330.30" y2="100.30" stroke="#fff" stroke-width="1.4"/>
<line x1="323.35" y1="99.70" x2="326.50" y2="96.55" stroke="#fff" stroke-width="1.4"/>
<line x1="327.15" y1="99.70" x2="330.30" y2="96.55" stroke="#fff" stroke-width="1.4"/>
<line x1="323.35" y1="95.95" x2="326.50" y2="92.80" stroke="#fff" stroke-width="1.4"/>
<line x1="327.15" y1="95.95" x2="330.30" y2="92.80" stroke="#fff" stroke-width="1.4"/>
<line x1="323.35" y1="92.20" x2="326.50" y2="89.05" stroke="#fff" stroke-width="1.4"/>
<line x1="327.15" y1="92.20" x2="330.30" y2="89.05" stroke="#fff" stroke-width="1.4"/>
<line x1="323.35" y1="88.45" x2="326.50" y2="85.30" stroke="#fff" stroke-width="1.4"/>
<line x1="327.15" y1="88.45" x2="330.30" y2="85.30" stroke="#fff" stroke-width="1.4"/>
<line x1="323.35" y1="84.70" x2="326.50" y2="81.55" stroke="#fff" stroke-width="1.4"/>
<line x1="327.15" y1="84.70" x2="330.30" y2="81.55" stroke="#fff" stroke-width="1.4"/>
<line x1="323.35" y1="80.95" x2="326.50" y2="77.80" stroke="#fff" stroke-width="1.4"/>
<line x1="327.15" y1="80.95" x2="330.30" y2="77.80" stroke="#fff" stroke-width="1.4"/>
<line x1="323.35" y1="77.20" x2="326.50" y2="74.05" stroke="#fff" stroke-width="1.4"/>
<line x1="327.15" y1="77.20" x2="330.30" y2="74.05" stroke="#fff" stroke-width="1.4"/>
<line x1="323.35" y1="73.45" x2="326.50" y2="70.30" stroke="#fff" stroke-width="1.4"/>
<line x1="327.15" y1="73.45" x2="330.30" y2="70.30" stroke="#fff" stroke-width="1.4"/>
<line x1="323.35" y1="69.70" x2="326.50" y2="66.55" stroke="#fff" stroke-width="1.4"/>
<line x1="327.15" y1="69.70" x2="330.30" y2="66.55" stroke="#fff" stroke-width="1.4"/>
<line x1="323.35" y1="65.95" x2="326.50" y2="62.80" stroke="#fff" stroke-width="1.4"/>
<line x1="327.15" y1="65.95" x2="330.30" y2="62.80" stroke="#fff" stroke-width="1.4"/>
<line x1="323.35" y1="62.20" x2="326.50" y2="59.05" stroke="#fff" stroke-width="1.4"/>
<line x1="327.15" y1="62.20" x2="330.30" y2="59.05" stroke="#fff" stroke-width="1.4"/>
</g>
<rect x="326.00" y="6.00" width="1.80" height="10.10" fill="#000"/>
<rect x="323.15" y="6.00" width="7.50" height="1.80" fill="#000"/>
<rect x="332.50" y="26.40" width="12.00" height="28.00" fill="#000"/>
<clipPath id="c15"><rect x="333.90" y="28.90" width="8.70" height="25.50"/></clipPath><g clip-path="url(#c15)">
<rect x="336.05" y="24.90" width="2.9" height="2.7" fill="#fff"/>
<rect x="336.05" y="30.90" width="2.9" height="2.7" fill="#fff"/>
<rect x="336.05" y="36.90" width="2.9" height="2.7" fill="#fff"/>
<rect x="336.05" y="42.90" width="2.9" height="2.7" fill="#fff"/>
<rect x="336.05" y="48.90" width="2.9" height="2.7" fill="#fff"/>
<rect x="333.25" y="27.90" width="2.9" height="2.7" fill="#fff"/>
<rect x="333.25" y="33.90" width="2.9" height="2.7" fill="#fff"/>
<rect x="333.25" y="39.90" width="2.9" height="2.7" fill="#fff"/>
<rect x="333.25" y="45.90" width="2.9" height="2.7" fill="#fff"/>
<rect x="333.25" y="51.90" width="2.9" height="2.7" fill="#fff"/>
<rect x="339.25" y="27.90" width="2.9" height="2.7" fill="#fff"/>
<rect x="339.25" y="33.90" width="2.9" height="2.7" fill="#fff"/>
<rect x="339.25" y="39.90" width="2.9" height="2.7" fill="#fff"/>
<rect x="339.25" y="45.90" width="2.9" height="2.7" fill="#fff"/>
<rect x="339.25" y="51.90" width="2.9" height="2.7" fill="#fff"/>
</g>
<rect x="332.50" y="65.20" width="12.00" height="53.60" fill="#000"/>
<clipPath id="c16"><rect x="333.90" y="65.80" width="8.70" height="53.00"/></clipPath><g clip-path="url(#c16)">
<rect x="336.05" y="61.80" width="2.9" height="2.7" fill="#fff"/>
<rect x="336.05" y="67.80" width="2.9" height="2.7" fill="#fff"/>
<rect x="336.05" y="73.80" width="2.9" height="2.7" fill="#fff"/>
<rect x="336.05" y="79.80" width="2.9" height="2.7" fill="#fff"/>
<rect x="336.05" y="85.80" width="2.9" height="2.7" fill="#fff"/>
<rect x="336.05" y="91.80" width="2.9" height="2.7" fill="#fff"/>
<rect x="336.05" y="97.80" width="2.9" height="2.7" fill="#fff"/>
<rect x="336.05" y="103.80" width="2.9" height="2.7" fill="#fff"/>
<rect x="336.05" y="109.80" width="2.9" height="2.7" fill="#fff"/>
<rect x="336.05" y="115.80" width="2.9" height="2.7" fill="#fff"/>
<rect x="333.25" y="64.80" width="2.9" height="2.7" fill="#fff"/>
<rect x="333.25" y="70.80" width="2.9" height="2.7" fill="#fff"/>
<rect x="333.25" y="76.80" width="2.9" height="2.7" fill="#fff"/>
<rect x="333.25" y="82.80" width="2.9" height="2.7" fill="#fff"/>
<rect x="333.25" y="88.80" width="2.9" height="2.7" fill="#fff"/>
<rect x="333.25" y="94.80" width="2.9" height="2.7" fill="#fff"/>
<rect x="333.25" y="100.80" width="2.9" height="2.7" fill="#fff"/>
<rect x="333.25" y="106.80" width="2.9" height="2.7" fill="#fff"/>
<rect x="333.25" y="112.80" width="2.9" height="2.7" fill="#fff"/>
<rect x="339.25" y="64.80" width="2.9" height="2.7" fill="#fff"/>
<rect x="339.25" y="70.80" width="2.9" height="2.7" fill="#fff"/>
<rect x="339.25" y="76.80" width="2.9" height="2.7" fill="#fff"/>
<rect x="339.25" y="82.80" width="2.9" height="2.7" fill="#fff"/>
<rect x="339.25" y="88.80" width="2.9" height="2.7" fill="#fff"/>
<rect x="339.25" y="94.80" width="2.9" height="2.7" fill="#fff"/>
<rect x="339.25" y="100.80" width="2.9" height="2.7" fill="#fff"/>
<rect x="339.25" y="106.80" width="2.9" height="2.7" fill="#fff"/>
<rect x="339.25" y="112.80" width="2.9" height="2.7" fill="#fff"/>
</g>
<rect x="337.60" y="23.90" width="1.80" height="2.50" fill="#000"/>
<rect x="334.75" y="23.90" width="7.50" height="1.80" fill="#000"/>
<rect x="352.80" y="65.20" width="13.20" height="53.60" fill="#000"/>
<rect x="354.70" y="65.20" width="9.40" height="53.60" fill="#fff"/>
<rect x="366.00" y="65.20" width="8.20" height="53.60" fill="#d0d0d0"/>
<rect x="366.00" y="65.20" width="1.00" height="53.60" fill="#e4e4e4"/>
<rect x="372.80" y="65.20" width="1.00" height="53.60" fill="#e4e4e4"/>
<rect x="374.60" y="49.80" width="11.20" height="4.60" fill="#000"/>
<clipPath id="c17"><rect x="376.40" y="52.00" width="7.40" height="2.40"/></clipPath><g clip-path="url(#c17)">
<line x1="376.65" y1="54.05" x2="379.80" y2="50.90" stroke="#fff" stroke-width="1.4"/>
<line x1="380.45" y1="54.05" x2="383.60" y2="50.90" stroke="#fff" stroke-width="1.4"/>
<line x1="376.65" y1="50.30" x2="379.80" y2="47.15" stroke="#fff" stroke-width="1.4"/>
<line x1="380.45" y1="50.30" x2="383.60" y2="47.15" stroke="#fff" stroke-width="1.4"/>
</g>
<rect x="374.60" y="65.20" width="11.20" height="53.60" fill="#000"/>
<clipPath id="c18"><rect x="376.40" y="65.50" width="7.40" height="53.30"/></clipPath><g clip-path="url(#c18)">
<line x1="376.65" y1="118.45" x2="379.80" y2="115.30" stroke="#fff" stroke-width="1.4"/>
<line x1="380.45" y1="118.45" x2="383.60" y2="115.30" stroke="#fff" stroke-width="1.4"/>
<line x1="376.65" y1="114.70" x2="379.80" y2="111.55" stroke="#fff" stroke-width="1.4"/>
<line x1="380.45" y1="114.70" x2="383.60" y2="111.55" stroke="#fff" stroke-width="1.4"/>
<line x1="376.65" y1="110.95" x2="379.80" y2="107.80" stroke="#fff" stroke-width="1.4"/>
<line x1="380.45" y1="110.95" x2="383.60" y2="107.80" stroke="#fff" stroke-width="1.4"/>
<line x1="376.65" y1="107.20" x2="379.80" y2="104.05" stroke="#fff" stroke-width="1.4"/>
<line x1="380.45" y1="107.20" x2="383.60" y2="104.05" stroke="#fff" stroke-width="1.4"/>
<line x1="376.65" y1="103.45" x2="379.80" y2="100.30" stroke="#fff" stroke-width="1.4"/>
<line x1="380.45" y1="103.45" x2="383.60" y2="100.30" stroke="#fff" stroke-width="1.4"/>
<line x1="376.65" y1="99.70" x2="379.80" y2="96.55" stroke="#fff" stroke-width="1.4"/>
<line x1="380.45" y1="99.70" x2="383.60" y2="96.55" stroke="#fff" stroke-width="1.4"/>
<line x1="376.65" y1="95.95" x2="379.80" y2="92.80" stroke="#fff" stroke-width="1.4"/>
<line x1="380.45" y1="95.95" x2="383.60" y2="92.80" stroke="#fff" stroke-width="1.4"/>
<line x1="376.65" y1="92.20" x2="379.80" y2="89.05" stroke="#fff" stroke-width="1.4"/>
<line x1="380.45" y1="92.20" x2="383.60" y2="89.05" stroke="#fff" stroke-width="1.4"/>
<line x1="376.65" y1="88.45" x2="379.80" y2="85.30" stroke="#fff" stroke-width="1.4"/>
<line x1="380.45" y1="88.45" x2="383.60" y2="85.30" stroke="#fff" stroke-width="1.4"/>
<line x1="376.65" y1="84.70" x2="379.80" y2="81.55" stroke="#fff" stroke-width="1.4"/>
<line x1="380.45" y1="84.70" x2="383.60" y2="81.55" stroke="#fff" stroke-width="1.4"/>
<line x1="376.65" y1="80.95" x2="379.80" y2="77.80" stroke="#fff" stroke-width="1.4"/>
<line x1="380.45" y1="80.95" x2="383.60" y2="77.80" stroke="#fff" stroke-width="1.4"/>
<line x1="376.65" y1="77.20" x2="379.80" y2="74.05" stroke="#fff" stroke-width="1.4"/>
<line x1="380.45" y1="77.20" x2="383.60" y2="74.05" stroke="#fff" stroke-width="1.4"/>
<line x1="376.65" y1="73.45" x2="379.80" y2="70.30" stroke="#fff" stroke-width="1.4"/>
<line x1="380.45" y1="73.45" x2="383.60" y2="70.30" stroke="#fff" stroke-width="1.4"/>
<line x1="376.65" y1="69.70" x2="379.80" y2="66.55" stroke="#fff" stroke-width="1.4"/>
<line x1="380.45" y1="69.70" x2="383.60" y2="66.55" stroke="#fff" stroke-width="1.4"/>
<line x1="376.65" y1="65.95" x2="379.80" y2="62.80" stroke="#fff" stroke-width="1.4"/>
<line x1="380.45" y1="65.95" x2="383.60" y2="62.80" stroke="#fff" stroke-width="1.4"/>
<line x1="376.65" y1="62.20" x2="379.80" y2="59.05" stroke="#fff" stroke-width="1.4"/>
<line x1="380.45" y1="62.20" x2="383.60" y2="59.05" stroke="#fff" stroke-width="1.4"/>
</g>
<rect x="379.30" y="48.00" width="1.80" height="1.80" fill="#000"/>
<rect x="376.45" y="48.00" width="7.50" height="1.80" fill="#000"/>
<rect x="385.80" y="75.80" width="12.00" height="43.00" fill="#000"/>
<clipPath id="c19"><rect x="387.20" y="78.30" width="8.70" height="40.50"/></clipPath><g clip-path="url(#c19)">
<rect x="389.35" y="74.30" width="2.9" height="2.7" fill="#fff"/>
<rect x="389.35" y="80.30" width="2.9" height="2.7" fill="#fff"/>
<rect x="389.35" y="86.30" width="2.9" height="2.7" fill="#fff"/>
<rect x="389.35" y="92.30" width="2.9" height="2.7" fill="#fff"/>
<rect x="389.35" y="98.30" width="2.9" height="2.7" fill="#fff"/>
<rect x="389.35" y="104.30" width="2.9" height="2.7" fill="#fff"/>
<rect x="389.35" y="110.30" width="2.9" height="2.7" fill="#fff"/>
<rect x="389.35" y="116.30" width="2.9" height="2.7" fill="#fff"/>
<rect x="386.55" y="77.30" width="2.9" height="2.7" fill="#fff"/>
<rect x="386.55" y="83.30" width="2.9" height="2.7" fill="#fff"/>
<rect x="386.55" y="89.30" width="2.9" height="2.7" fill="#fff"/>
<rect x="386.55" y="95.30" width="2.9" height="2.7" fill="#fff"/>
<rect x="386.55" y="101.30" width="2.9" height="2.7" fill="#fff"/>
<rect x="386.55" y="107.30" width="2.9" height="2.7" fill="#fff"/>
<rect x="386.55" y="113.30" width="2.9" height="2.7" fill="#fff"/>
<rect x="392.55" y="77.30" width="2.9" height="2.7" fill="#fff"/>
<rect x="392.55" y="83.30" width="2.9" height="2.7" fill="#fff"/>
<rect x="392.55" y="89.30" width="2.9" height="2.7" fill="#fff"/>
<rect x="392.55" y="95.30" width="2.9" height="2.7" fill="#fff"/>
<rect x="392.55" y="101.30" width="2.9" height="2.7" fill="#fff"/>
<rect x="392.55" y="107.30" width="2.9" height="2.7" fill="#fff"/>
<rect x="392.55" y="113.30" width="2.9" height="2.7" fill="#fff"/>
</g>
<rect x="390.90" y="66.50" width="1.80" height="9.30" fill="#000"/>
<rect x="388.05" y="66.50" width="7.50" height="1.80" fill="#000"/>
<rect x="405.50" y="103.50" width="13.20" height="15.30" fill="#000"/>
<rect x="407.40" y="105.40" width="9.40" height="13.40" fill="#fff"/>
<rect x="411.20" y="99.60" width="1.80" height="3.90" fill="#000"/>
<rect x="408.35" y="99.60" width="7.50" height="1.80" fill="#000"/>
<rect x="418.70" y="110.00" width="8.20" height="1.90" fill="#000"/>
<rect x="418.70" y="111.90" width="8.20" height="6.90" fill="#d0d0d0"/>
<rect x="418.70" y="111.90" width="1.00" height="6.90" fill="#e4e4e4"/>
<rect x="425.50" y="111.90" width="1.00" height="6.90" fill="#e4e4e4"/>
<rect x="421.90" y="103.80" width="1.80" height="6.20" fill="#000"/>
<rect x="418.30" y="103.80" width="9.00" height="1.80" fill="#000"/>
<rect x="427.30" y="101.20" width="11.20" height="17.60" fill="#000"/>
<clipPath id="c20"><rect x="429.10" y="103.40" width="7.40" height="15.40"/></clipPath><g clip-path="url(#c20)">
<line x1="429.35" y1="118.45" x2="432.50" y2="115.30" stroke="#fff" stroke-width="1.4"/>
<line x1="433.15" y1="118.45" x2="436.30" y2="115.30" stroke="#fff" stroke-width="1.4"/>
<line x1="429.35" y1="114.70" x2="432.50" y2="111.55" stroke="#fff" stroke-width="1.4"/>
<line x1="433.15" y1="114.70" x2="436.30" y2="111.55" stroke="#fff" stroke-width="1.4"/>
<line x1="429.35" y1="110.95" x2="432.50" y2="107.80" stroke="#fff" stroke-width="1.4"/>
<line x1="433.15" y1="110.95" x2="436.30" y2="107.80" stroke="#fff" stroke-width="1.4"/>
<line x1="429.35" y1="107.20" x2="432.50" y2="104.05" stroke="#fff" stroke-width="1.4"/>
<line x1="433.15" y1="107.20" x2="436.30" y2="104.05" stroke="#fff" stroke-width="1.4"/>
<line x1="429.35" y1="103.45" x2="432.50" y2="100.30" stroke="#fff" stroke-width="1.4"/>
<line x1="433.15" y1="103.45" x2="436.30" y2="100.30" stroke="#fff" stroke-width="1.4"/>
<line x1="429.35" y1="99.70" x2="432.50" y2="96.55" stroke="#fff" stroke-width="1.4"/>
<line x1="433.15" y1="99.70" x2="436.30" y2="96.55" stroke="#fff" stroke-width="1.4"/>
</g>
<rect x="438.50" y="115.70" width="12.00" height="3.10" fill="#000"/>
<clipPath id="c21"><rect x="439.90" y="118.20" width="8.70" height="0.60"/></clipPath><g clip-path="url(#c21)">
<rect x="442.05" y="114.20" width="2.9" height="2.7" fill="#fff"/>
<rect x="439.25" y="117.20" width="2.9" height="2.7" fill="#fff"/>
<rect x="445.25" y="117.20" width="2.9" height="2.7" fill="#fff"/>
</g>
<rect x="459.00" y="112.40" width="13.20" height="6.40" fill="#000"/>
<rect x="460.90" y="114.30" width="9.40" height="4.50" fill="#fff"/>
<rect x="464.70" y="112.00" width="1.80" height="0.40" fill="#000"/>
<rect x="461.85" y="112.00" width="7.50" height="1.80" fill="#000"/>
<rect x="472.20" y="116.50" width="8.20" height="1.90" fill="#000"/>
<rect x="472.20" y="118.40" width="8.20" height="0.40" fill="#d0d0d0"/>
<rect x="472.20" y="118.40" width="1.00" height="0.40" fill="#e4e4e4"/>
<rect x="479.00" y="118.40" width="1.00" height="0.40" fill="#e4e4e4"/>
<rect x="480.80" y="111.50" width="11.20" height="7.30" fill="#000"/>
<clipPath id="c22"><rect x="482.60" y="113.70" width="7.40" height="5.10"/></clipPath><g clip-path="url(#c22)">
<line x1="482.85" y1="118.45" x2="486.00" y2="115.30" stroke="#fff" stroke-width="1.4"/>
<line x1="486.65" y1="118.45" x2="489.80" y2="115.30" stroke="#fff" stroke-width="1.4"/>
<line x1="482.85" y1="114.70" x2="486.00" y2="111.55" stroke="#fff" stroke-width="1.4"/>
<line x1="486.65" y1="114.70" x2="489.80" y2="111.55" stroke="#fff" stroke-width="1.4"/>
<line x1="482.85" y1="110.95" x2="486.00" y2="107.80" stroke="#fff" stroke-width="1.4"/>
<line x1="486.65" y1="110.95" x2="489.80" y2="107.80" stroke="#fff" stroke-width="1.4"/>
</g>
<rect x="485.50" y="110.50" width="1.80" height="1.00" fill="#000"/>
<rect x="482.65" y="110.50" width="7.50" height="1.80" fill="#000"/>
<rect x="492.00" y="116.50" width="12.00" height="2.30" fill="#000"/>
<clipPath id="c23"><rect x="493.40" y="119.00" width="8.70" height="-0.20"/></clipPath><g clip-path="url(#c23)">
<rect x="495.55" y="115.00" width="2.9" height="2.7" fill="#fff"/>
<rect x="492.75" y="118.00" width="2.9" height="2.7" fill="#fff"/>
<rect x="498.75" y="118.00" width="2.9" height="2.7" fill="#fff"/>
</g>
<rect x="355.30" y="51.60" width="7.20" height="2.10" fill="#000"/>
<text x="321.80" y="131.90" font-size="8.4" text-anchor="middle" >1</text>
<text x="374.80" y="131.90" font-size="8.4" text-anchor="middle" >2</text>
<text x="427.80" y="131.90" font-size="8.4" text-anchor="middle" >4</text>
<text x="481.20" y="131.90" font-size="8.4" text-anchor="middle" >6</text>
<text x="402.50" y="143.80" font-size="9.2" text-anchor="middle" >Weeks</text>
<text x="422.50" y="103.00" font-size="8.4" text-anchor="middle" >*</text>
<text x="444.40" y="114.80" font-size="8.4" text-anchor="middle" >**</text>
<text x="475.60" y="113.30" font-size="8.4" text-anchor="middle" >**</text>
<text x="497.80" y="116.60" font-size="8.4" text-anchor="middle" >**</text>
<text transform="translate(18.3,62.5) rotate(-90)" font-size="8.2" text-anchor="middle">CAFC/10<tspan dy="-3.4" font-size="6.4">5</tspan><tspan dy="3.4"> BMCs</tspan></text>
<text transform="translate(274.6,64.2) rotate(-90)" font-size="8.2" text-anchor="middle">CAFC/10<tspan dy="-3.4" font-size="6.4">5</tspan><tspan dy="3.4"> BMCs</tspan></text>
<rect x="171.50" y="2.80" width="18.50" height="6.40" rx="1.3" fill="#000"/>
<rect x="173.70" y="5.00" width="14.10" height="2.00" fill="#fff"/>
<text x="198.50" y="11.00" font-size="8.2">p16<tspan dy="-4.5" font-size="5.9">+/+</tspan></text>
<rect x="171.50" y="12.00" width="18.50" height="7.90" rx="1.3" fill="#000"/>
<rect x="173.70" y="14.20" width="14.10" height="3.50" fill="#d0d0d0"/>
<text x="198.50" y="19.50" font-size="8.2">p16<tspan dy="-4.5" font-size="5.9">+/+</tspan><tspan dy="4.5">/TBI</tspan></text>
<rect x="171.50" y="23.50" width="18.50" height="6.50" rx="1.3" fill="#000"/>
<line x1="174.86" y1="27.70" x2="177.06" y2="25.80" stroke="#fff" stroke-width="1.3"/>
<line x1="178.47" y1="27.70" x2="180.67" y2="25.80" stroke="#fff" stroke-width="1.3"/>
<line x1="182.09" y1="27.70" x2="184.29" y2="25.80" stroke="#fff" stroke-width="1.3"/>
<line x1="185.70" y1="27.70" x2="187.90" y2="25.80" stroke="#fff" stroke-width="1.3"/>
<text x="198.50" y="30.80" font-size="8.2">p16<tspan dy="-4.5" font-size="5.9">-/-</tspan></text>
<rect x="171.50" y="33.20" width="18.50" height="7.40" rx="1.3" fill="#000"/>
<rect x="174.30" y="35.40" width="2.00" height="1.40" fill="#fff"/>
<rect x="177.20" y="37.10" width="2.00" height="1.40" fill="#fff"/>
<rect x="180.10" y="35.40" width="2.00" height="1.40" fill="#fff"/>
<rect x="183.00" y="37.10" width="2.00" height="1.40" fill="#fff"/>
<rect x="185.90" y="35.40" width="2.00" height="1.40" fill="#fff"/>
<text x="198.50" y="40.30" font-size="8.2">p16<tspan dy="-4.5" font-size="5.9">-/-</tspan><tspan dy="4.5">/TBI</tspan></text>
<rect x="411.10" y="0.70" width="18.80" height="6.00" rx="1.3" fill="#000"/>
<rect x="413.30" y="2.90" width="14.40" height="1.60" fill="#fff"/>
<text x="438.00" y="8.10" font-size="8.2">Arf<tspan dy="-4.5" font-size="5.9">+/+</tspan></text>
<rect x="411.10" y="9.70" width="18.80" height="7.10" rx="1.3" fill="#000"/>
<rect x="413.30" y="11.90" width="14.40" height="2.70" fill="#d0d0d0"/>
<text x="438.00" y="17.50" font-size="8.2">Arf<tspan dy="-4.5" font-size="5.9">+/+</tspan><tspan dy="4.5">/TBI</tspan></text>
<rect x="411.10" y="21.50" width="18.80" height="6.10" rx="1.3" fill="#000"/>
<line x1="414.50" y1="25.30" x2="416.70" y2="23.80" stroke="#fff" stroke-width="1.3"/>
<line x1="418.20" y1="25.30" x2="420.40" y2="23.80" stroke="#fff" stroke-width="1.3"/>
<line x1="421.89" y1="25.30" x2="424.09" y2="23.80" stroke="#fff" stroke-width="1.3"/>
<line x1="425.58" y1="25.30" x2="427.78" y2="23.80" stroke="#fff" stroke-width="1.3"/>
<text x="438.00" y="28.50" font-size="8.2">Arf<tspan dy="-4.5" font-size="5.9">-/-</tspan></text>
<rect x="411.10" y="31.00" width="18.80" height="8.00" rx="1.3" fill="#000"/>
<rect x="413.90" y="33.50" width="2.00" height="1.40" fill="#fff"/>
<rect x="416.80" y="35.20" width="2.00" height="1.40" fill="#fff"/>
<rect x="419.70" y="33.50" width="2.00" height="1.40" fill="#fff"/>
<rect x="422.60" y="35.20" width="2.00" height="1.40" fill="#fff"/>
<rect x="425.50" y="33.50" width="2.00" height="1.40" fill="#fff"/>
<text x="438.00" y="38.40" font-size="8.2">Arf<tspan dy="-4.5" font-size="5.9">-/-</tspan><tspan dy="4.5">/TBI</tspan></text>
<text x="0.80" y="163.00" font-size="11.4" text-anchor="start" >C</text>
<rect x="39.20" y="161.60" width="1.60" height="49.70" fill="#000"/>
<rect x="39.20" y="222.40" width="1.60" height="54.80" fill="#000"/>
<rect x="37.20" y="210.00" width="6.60" height="1.30" fill="#000"/>
<rect x="37.20" y="222.40" width="6.60" height="1.30" fill="#000"/>
<rect x="39.20" y="275.60" width="215.30" height="1.60" fill="#000"/>
<rect x="35.50" y="166.90" width="4.50" height="1.40" fill="#000"/>
<text x="34.50" y="170.60" font-size="8.4" text-anchor="end" >250</text>
<rect x="35.50" y="176.80" width="4.50" height="1.40" fill="#000"/>
<text x="34.50" y="180.50" font-size="8.4" text-anchor="end" >200</text>
<rect x="35.50" y="186.90" width="4.50" height="1.40" fill="#000"/>
<text x="34.50" y="190.60" font-size="8.4" text-anchor="end" >150</text>
<rect x="35.50" y="196.50" width="4.50" height="1.40" fill="#000"/>
<text x="34.50" y="200.20" font-size="8.4" text-anchor="end" >100</text>
<rect x="35.50" y="206.20" width="4.50" height="1.40" fill="#000"/>
<text x="34.50" y="209.90" font-size="8.4" text-anchor="end" >50</text>
<rect x="35.50" y="231.10" width="4.50" height="1.40" fill="#000"/>
<text x="34.50" y="234.80" font-size="8.4" text-anchor="end" >10</text>
<rect x="35.50" y="253.70" width="4.50" height="1.40" fill="#000"/>
<text x="34.50" y="257.40" font-size="8.4" text-anchor="end" >5</text>
<rect x="35.50" y="275.70" width="4.50" height="1.40" fill="#000"/>
<text x="34.50" y="279.40" font-size="8.4" text-anchor="end" >0</text>
<rect x="44.40" y="195.20" width="13.20" height="16.10" fill="#000"/>
<rect x="46.30" y="197.10" width="9.40" height="14.20" fill="#fff"/>
<rect x="44.40" y="222.40" width="13.20" height="54.00" fill="#000"/>
<rect x="46.30" y="222.40" width="9.40" height="54.00" fill="#fff"/>
<rect x="50.10" y="190.90" width="1.80" height="4.30" fill="#000"/>
<rect x="47.25" y="190.90" width="7.50" height="1.80" fill="#000"/>
<rect x="57.60" y="198.60" width="8.20" height="1.90" fill="#000"/>
<rect x="57.60" y="200.50" width="8.20" height="10.80" fill="#d0d0d0"/>
<rect x="57.60" y="200.50" width="1.00" height="10.80" fill="#e4e4e4"/>
<rect x="64.40" y="200.50" width="1.00" height="10.80" fill="#e4e4e4"/>
<rect x="57.60" y="222.40" width="8.20" height="54.00" fill="#d0d0d0"/>
<rect x="57.60" y="222.40" width="1.00" height="54.00" fill="#e4e4e4"/>
<rect x="64.40" y="222.40" width="1.00" height="54.00" fill="#e4e4e4"/>
<rect x="60.80" y="196.90" width="1.80" height="1.70" fill="#000"/>
<rect x="57.20" y="196.90" width="9.00" height="1.80" fill="#000"/>
<rect x="66.20" y="177.00" width="11.20" height="34.30" fill="#000"/>
<clipPath id="c24"><rect x="68.00" y="179.20" width="7.40" height="32.10"/></clipPath><g clip-path="url(#c24)">
<line x1="68.25" y1="210.95" x2="71.40" y2="207.80" stroke="#fff" stroke-width="1.4"/>
<line x1="72.05" y1="210.95" x2="75.20" y2="207.80" stroke="#fff" stroke-width="1.4"/>
<line x1="68.25" y1="207.20" x2="71.40" y2="204.05" stroke="#fff" stroke-width="1.4"/>
<line x1="72.05" y1="207.20" x2="75.20" y2="204.05" stroke="#fff" stroke-width="1.4"/>
<line x1="68.25" y1="203.45" x2="71.40" y2="200.30" stroke="#fff" stroke-width="1.4"/>
<line x1="72.05" y1="203.45" x2="75.20" y2="200.30" stroke="#fff" stroke-width="1.4"/>
<line x1="68.25" y1="199.70" x2="71.40" y2="196.55" stroke="#fff" stroke-width="1.4"/>
<line x1="72.05" y1="199.70" x2="75.20" y2="196.55" stroke="#fff" stroke-width="1.4"/>
<line x1="68.25" y1="195.95" x2="71.40" y2="192.80" stroke="#fff" stroke-width="1.4"/>
<line x1="72.05" y1="195.95" x2="75.20" y2="192.80" stroke="#fff" stroke-width="1.4"/>
<line x1="68.25" y1="192.20" x2="71.40" y2="189.05" stroke="#fff" stroke-width="1.4"/>
<line x1="72.05" y1="192.20" x2="75.20" y2="189.05" stroke="#fff" stroke-width="1.4"/>
<line x1="68.25" y1="188.45" x2="71.40" y2="185.30" stroke="#fff" stroke-width="1.4"/>
<line x1="72.05" y1="188.45" x2="75.20" y2="185.30" stroke="#fff" stroke-width="1.4"/>
<line x1="68.25" y1="184.70" x2="71.40" y2="181.55" stroke="#fff" stroke-width="1.4"/>
<line x1="72.05" y1="184.70" x2="75.20" y2="181.55" stroke="#fff" stroke-width="1.4"/>
<line x1="68.25" y1="180.95" x2="71.40" y2="177.80" stroke="#fff" stroke-width="1.4"/>
<line x1="72.05" y1="180.95" x2="75.20" y2="177.80" stroke="#fff" stroke-width="1.4"/>
<line x1="68.25" y1="177.20" x2="71.40" y2="174.05" stroke="#fff" stroke-width="1.4"/>
<line x1="72.05" y1="177.20" x2="75.20" y2="174.05" stroke="#fff" stroke-width="1.4"/>
</g>
<rect x="66.20" y="222.40" width="11.20" height="54.00" fill="#000"/>
<clipPath id="c25"><rect x="68.00" y="222.70" width="7.40" height="53.70"/></clipPath><g clip-path="url(#c25)">
<line x1="68.25" y1="276.05" x2="71.40" y2="272.90" stroke="#fff" stroke-width="1.4"/>
<line x1="72.05" y1="276.05" x2="75.20" y2="272.90" stroke="#fff" stroke-width="1.4"/>
<line x1="68.25" y1="272.30" x2="71.40" y2="269.15" stroke="#fff" stroke-width="1.4"/>
<line x1="72.05" y1="272.30" x2="75.20" y2="269.15" stroke="#fff" stroke-width="1.4"/>
<line x1="68.25" y1="268.55" x2="71.40" y2="265.40" stroke="#fff" stroke-width="1.4"/>
<line x1="72.05" y1="268.55" x2="75.20" y2="265.40" stroke="#fff" stroke-width="1.4"/>
<line x1="68.25" y1="264.80" x2="71.40" y2="261.65" stroke="#fff" stroke-width="1.4"/>
<line x1="72.05" y1="264.80" x2="75.20" y2="261.65" stroke="#fff" stroke-width="1.4"/>
<line x1="68.25" y1="261.05" x2="71.40" y2="257.90" stroke="#fff" stroke-width="1.4"/>
<line x1="72.05" y1="261.05" x2="75.20" y2="257.90" stroke="#fff" stroke-width="1.4"/>
<line x1="68.25" y1="257.30" x2="71.40" y2="254.15" stroke="#fff" stroke-width="1.4"/>
<line x1="72.05" y1="257.30" x2="75.20" y2="254.15" stroke="#fff" stroke-width="1.4"/>
<line x1="68.25" y1="253.55" x2="71.40" y2="250.40" stroke="#fff" stroke-width="1.4"/>
<line x1="72.05" y1="253.55" x2="75.20" y2="250.40" stroke="#fff" stroke-width="1.4"/>
<line x1="68.25" y1="249.80" x2="71.40" y2="246.65" stroke="#fff" stroke-width="1.4"/>
<line x1="72.05" y1="249.80" x2="75.20" y2="246.65" stroke="#fff" stroke-width="1.4"/>
<line x1="68.25" y1="246.05" x2="71.40" y2="242.90" stroke="#fff" stroke-width="1.4"/>
<line x1="72.05" y1="246.05" x2="75.20" y2="242.90" stroke="#fff" stroke-width="1.4"/>
<line x1="68.25" y1="242.30" x2="71.40" y2="239.15" stroke="#fff" stroke-width="1.4"/>
<line x1="72.05" y1="242.30" x2="75.20" y2="239.15" stroke="#fff" stroke-width="1.4"/>
<line x1="68.25" y1="238.55" x2="71.40" y2="235.40" stroke="#fff" stroke-width="1.4"/>
<line x1="72.05" y1="238.55" x2="75.20" y2="235.40" stroke="#fff" stroke-width="1.4"/>
<line x1="68.25" y1="234.80" x2="71.40" y2="231.65" stroke="#fff" stroke-width="1.4"/>
<line x1="72.05" y1="234.80" x2="75.20" y2="231.65" stroke="#fff" stroke-width="1.4"/>
<line x1="68.25" y1="231.05" x2="71.40" y2="227.90" stroke="#fff" stroke-width="1.4"/>
<line x1="72.05" y1="231.05" x2="75.20" y2="227.90" stroke="#fff" stroke-width="1.4"/>
<line x1="68.25" y1="227.30" x2="71.40" y2="224.15" stroke="#fff" stroke-width="1.4"/>
<line x1="72.05" y1="227.30" x2="75.20" y2="224.15" stroke="#fff" stroke-width="1.4"/>
<line x1="68.25" y1="223.55" x2="71.40" y2="220.40" stroke="#fff" stroke-width="1.4"/>
<line x1="72.05" y1="223.55" x2="75.20" y2="220.40" stroke="#fff" stroke-width="1.4"/>
<line x1="68.25" y1="219.80" x2="71.40" y2="216.65" stroke="#fff" stroke-width="1.4"/>
<line x1="72.05" y1="219.80" x2="75.20" y2="216.65" stroke="#fff" stroke-width="1.4"/>
</g>
<rect x="70.90" y="162.10" width="1.80" height="14.90" fill="#000"/>
<rect x="68.05" y="162.10" width="7.50" height="1.80" fill="#000"/>
<rect x="77.40" y="192.00" width="12.00" height="19.30" fill="#000"/>
<clipPath id="c26"><rect x="78.80" y="194.50" width="8.70" height="16.80"/></clipPath><g clip-path="url(#c26)">
<rect x="80.95" y="190.50" width="2.9" height="2.7" fill="#fff"/>
<rect x="80.95" y="196.50" width="2.9" height="2.7" fill="#fff"/>
<rect x="80.95" y="202.50" width="2.9" height="2.7" fill="#fff"/>
<rect x="80.95" y="208.50" width="2.9" height="2.7" fill="#fff"/>
<rect x="78.15" y="193.50" width="2.9" height="2.7" fill="#fff"/>
<rect x="78.15" y="199.50" width="2.9" height="2.7" fill="#fff"/>
<rect x="78.15" y="205.50" width="2.9" height="2.7" fill="#fff"/>
<rect x="84.15" y="193.50" width="2.9" height="2.7" fill="#fff"/>
<rect x="84.15" y="199.50" width="2.9" height="2.7" fill="#fff"/>
<rect x="84.15" y="205.50" width="2.9" height="2.7" fill="#fff"/>
</g>
<rect x="77.40" y="222.40" width="12.00" height="54.00" fill="#000"/>
<clipPath id="c27"><rect x="78.80" y="223.00" width="8.70" height="53.40"/></clipPath><g clip-path="url(#c27)">
<rect x="80.95" y="219.00" width="2.9" height="2.7" fill="#fff"/>
<rect x="80.95" y="225.00" width="2.9" height="2.7" fill="#fff"/>
<rect x="80.95" y="231.00" width="2.9" height="2.7" fill="#fff"/>
<rect x="80.95" y="237.00" width="2.9" height="2.7" fill="#fff"/>
<rect x="80.95" y="243.00" width="2.9" height="2.7" fill="#fff"/>
<rect x="80.95" y="249.00" width="2.9" height="2.7" fill="#fff"/>
<rect x="80.95" y="255.00" width="2.9" height="2.7" fill="#fff"/>
<rect x="80.95" y="261.00" width="2.9" height="2.7" fill="#fff"/>
<rect x="80.95" y="267.00" width="2.9" height="2.7" fill="#fff"/>
<rect x="80.95" y="273.00" width="2.9" height="2.7" fill="#fff"/>
<rect x="78.15" y="222.00" width="2.9" height="2.7" fill="#fff"/>
<rect x="78.15" y="228.00" width="2.9" height="2.7" fill="#fff"/>
<rect x="78.15" y="234.00" width="2.9" height="2.7" fill="#fff"/>
<rect x="78.15" y="240.00" width="2.9" height="2.7" fill="#fff"/>
<rect x="78.15" y="246.00" width="2.9" height="2.7" fill="#fff"/>
<rect x="78.15" y="252.00" width="2.9" height="2.7" fill="#fff"/>
<rect x="78.15" y="258.00" width="2.9" height="2.7" fill="#fff"/>
<rect x="78.15" y="264.00" width="2.9" height="2.7" fill="#fff"/>
<rect x="78.15" y="270.00" width="2.9" height="2.7" fill="#fff"/>
<rect x="78.15" y="276.00" width="2.9" height="2.7" fill="#fff"/>
<rect x="84.15" y="222.00" width="2.9" height="2.7" fill="#fff"/>
<rect x="84.15" y="228.00" width="2.9" height="2.7" fill="#fff"/>
<rect x="84.15" y="234.00" width="2.9" height="2.7" fill="#fff"/>
<rect x="84.15" y="240.00" width="2.9" height="2.7" fill="#fff"/>
<rect x="84.15" y="246.00" width="2.9" height="2.7" fill="#fff"/>
<rect x="84.15" y="252.00" width="2.9" height="2.7" fill="#fff"/>
<rect x="84.15" y="258.00" width="2.9" height="2.7" fill="#fff"/>
<rect x="84.15" y="264.00" width="2.9" height="2.7" fill="#fff"/>
<rect x="84.15" y="270.00" width="2.9" height="2.7" fill="#fff"/>
<rect x="84.15" y="276.00" width="2.9" height="2.7" fill="#fff"/>
</g>
<rect x="82.50" y="186.50" width="1.80" height="5.50" fill="#000"/>
<rect x="79.65" y="186.50" width="7.50" height="1.80" fill="#000"/>
<rect x="97.50" y="206.00" width="13.20" height="5.30" fill="#000"/>
<rect x="99.40" y="207.90" width="9.40" height="3.40" fill="#fff"/>
<rect x="97.50" y="222.40" width="13.20" height="54.00" fill="#000"/>
<rect x="99.40" y="222.40" width="9.40" height="54.00" fill="#fff"/>
<rect x="103.20" y="204.20" width="1.80" height="1.80" fill="#000"/>
<rect x="100.35" y="204.20" width="7.50" height="1.80" fill="#000"/>
<rect x="110.70" y="208.30" width="8.20" height="1.90" fill="#000"/>
<rect x="110.70" y="210.20" width="8.20" height="1.10" fill="#d0d0d0"/>
<rect x="110.70" y="210.20" width="1.00" height="1.10" fill="#e4e4e4"/>
<rect x="117.50" y="210.20" width="1.00" height="1.10" fill="#e4e4e4"/>
<rect x="110.70" y="222.40" width="8.20" height="54.00" fill="#d0d0d0"/>
<rect x="110.70" y="222.40" width="1.00" height="54.00" fill="#e4e4e4"/>
<rect x="117.50" y="222.40" width="1.00" height="54.00" fill="#e4e4e4"/>
<rect x="119.30" y="198.50" width="11.20" height="12.80" fill="#000"/>
<clipPath id="c28"><rect x="121.10" y="200.70" width="7.40" height="10.60"/></clipPath><g clip-path="url(#c28)">
<line x1="121.35" y1="210.95" x2="124.50" y2="207.80" stroke="#fff" stroke-width="1.4"/>
<line x1="125.15" y1="210.95" x2="128.30" y2="207.80" stroke="#fff" stroke-width="1.4"/>
<line x1="121.35" y1="207.20" x2="124.50" y2="204.05" stroke="#fff" stroke-width="1.4"/>
<line x1="125.15" y1="207.20" x2="128.30" y2="204.05" stroke="#fff" stroke-width="1.4"/>
<line x1="121.35" y1="203.45" x2="124.50" y2="200.30" stroke="#fff" stroke-width="1.4"/>
<line x1="125.15" y1="203.45" x2="128.30" y2="200.30" stroke="#fff" stroke-width="1.4"/>
<line x1="121.35" y1="199.70" x2="124.50" y2="196.55" stroke="#fff" stroke-width="1.4"/>
<line x1="125.15" y1="199.70" x2="128.30" y2="196.55" stroke="#fff" stroke-width="1.4"/>
</g>
<rect x="119.30" y="222.40" width="11.20" height="54.00" fill="#000"/>
<clipPath id="c29"><rect x="121.10" y="222.70" width="7.40" height="53.70"/></clipPath><g clip-path="url(#c29)">
<line x1="121.35" y1="276.05" x2="124.50" y2="272.90" stroke="#fff" stroke-width="1.4"/>
<line x1="125.15" y1="276.05" x2="128.30" y2="272.90" stroke="#fff" stroke-width="1.4"/>
<line x1="121.35" y1="272.30" x2="124.50" y2="269.15" stroke="#fff" stroke-width="1.4"/>
<line x1="125.15" y1="272.30" x2="128.30" y2="269.15" stroke="#fff" stroke-width="1.4"/>
<line x1="121.35" y1="268.55" x2="124.50" y2="265.40" stroke="#fff" stroke-width="1.4"/>
<line x1="125.15" y1="268.55" x2="128.30" y2="265.40" stroke="#fff" stroke-width="1.4"/>
<line x1="121.35" y1="264.80" x2="124.50" y2="261.65" stroke="#fff" stroke-width="1.4"/>
<line x1="125.15" y1="264.80" x2="128.30" y2="261.65" stroke="#fff" stroke-width="1.4"/>
<line x1="121.35" y1="261.05" x2="124.50" y2="257.90" stroke="#fff" stroke-width="1.4"/>
<line x1="125.15" y1="261.05" x2="128.30" y2="257.90" stroke="#fff" stroke-width="1.4"/>
<line x1="121.35" y1="257.30" x2="124.50" y2="254.15" stroke="#fff" stroke-width="1.4"/>
<line x1="125.15" y1="257.30" x2="128.30" y2="254.15" stroke="#fff" stroke-width="1.4"/>
<line x1="121.35" y1="253.55" x2="124.50" y2="250.40" stroke="#fff" stroke-width="1.4"/>
<line x1="125.15" y1="253.55" x2="128.30" y2="250.40" stroke="#fff" stroke-width="1.4"/>
<line x1="121.35" y1="249.80" x2="124.50" y2="246.65" stroke="#fff" stroke-width="1.4"/>
<line x1="125.15" y1="249.80" x2="128.30" y2="246.65" stroke="#fff" stroke-width="1.4"/>
<line x1="121.35" y1="246.05" x2="124.50" y2="242.90" stroke="#fff" stroke-width="1.4"/>
<line x1="125.15" y1="246.05" x2="128.30" y2="242.90" stroke="#fff" stroke-width="1.4"/>
<line x1="121.35" y1="242.30" x2="124.50" y2="239.15" stroke="#fff" stroke-width="1.4"/>
<line x1="125.15" y1="242.30" x2="128.30" y2="239.15" stroke="#fff" stroke-width="1.4"/>
<line x1="121.35" y1="238.55" x2="124.50" y2="235.40" stroke="#fff" stroke-width="1.4"/>
<line x1="125.15" y1="238.55" x2="128.30" y2="235.40" stroke="#fff" stroke-width="1.4"/>
<line x1="121.35" y1="234.80" x2="124.50" y2="231.65" stroke="#fff" stroke-width="1.4"/>
<line x1="125.15" y1="234.80" x2="128.30" y2="231.65" stroke="#fff" stroke-width="1.4"/>
<line x1="121.35" y1="231.05" x2="124.50" y2="227.90" stroke="#fff" stroke-width="1.4"/>
<line x1="125.15" y1="231.05" x2="128.30" y2="227.90" stroke="#fff" stroke-width="1.4"/>
<line x1="121.35" y1="227.30" x2="124.50" y2="224.15" stroke="#fff" stroke-width="1.4"/>
<line x1="125.15" y1="227.30" x2="128.30" y2="224.15" stroke="#fff" stroke-width="1.4"/>
<line x1="121.35" y1="223.55" x2="124.50" y2="220.40" stroke="#fff" stroke-width="1.4"/>
<line x1="125.15" y1="223.55" x2="128.30" y2="220.40" stroke="#fff" stroke-width="1.4"/>
<line x1="121.35" y1="219.80" x2="124.50" y2="216.65" stroke="#fff" stroke-width="1.4"/>
<line x1="125.15" y1="219.80" x2="128.30" y2="216.65" stroke="#fff" stroke-width="1.4"/>
</g>
<rect x="124.00" y="191.00" width="1.80" height="7.50" fill="#000"/>
<rect x="121.15" y="191.00" width="7.50" height="1.80" fill="#000"/>
<rect x="130.50" y="210.00" width="12.00" height="1.30" fill="#000"/>
<clipPath id="c30"><rect x="131.90" y="212.50" width="8.70" height="-1.20"/></clipPath><g clip-path="url(#c30)">
<rect x="134.05" y="208.50" width="2.9" height="2.7" fill="#fff"/>
</g>
<rect x="130.50" y="222.40" width="12.00" height="54.00" fill="#000"/>
<clipPath id="c31"><rect x="131.90" y="223.00" width="8.70" height="53.40"/></clipPath><g clip-path="url(#c31)">
<rect x="134.05" y="219.00" width="2.9" height="2.7" fill="#fff"/>
<rect x="134.05" y="225.00" width="2.9" height="2.7" fill="#fff"/>
<rect x="134.05" y="231.00" width="2.9" height="2.7" fill="#fff"/>
<rect x="134.05" y="237.00" width="2.9" height="2.7" fill="#fff"/>
<rect x="134.05" y="243.00" width="2.9" height="2.7" fill="#fff"/>
<rect x="134.05" y="249.00" width="2.9" height="2.7" fill="#fff"/>
<rect x="134.05" y="255.00" width="2.9" height="2.7" fill="#fff"/>
<rect x="134.05" y="261.00" width="2.9" height="2.7" fill="#fff"/>
<rect x="134.05" y="267.00" width="2.9" height="2.7" fill="#fff"/>
<rect x="134.05" y="273.00" width="2.9" height="2.7" fill="#fff"/>
<rect x="131.25" y="222.00" width="2.9" height="2.7" fill="#fff"/>
<rect x="131.25" y="228.00" width="2.9" height="2.7" fill="#fff"/>
<rect x="131.25" y="234.00" width="2.9" height="2.7" fill="#fff"/>
<rect x="131.25" y="240.00" width="2.9" height="2.7" fill="#fff"/>
<rect x="131.25" y="246.00" width="2.9" height="2.7" fill="#fff"/>
<rect x="131.25" y="252.00" width="2.9" height="2.7" fill="#fff"/>
<rect x="131.25" y="258.00" width="2.9" height="2.7" fill="#fff"/>
<rect x="131.25" y="264.00" width="2.9" height="2.7" fill="#fff"/>
<rect x="131.25" y="270.00" width="2.9" height="2.7" fill="#fff"/>
<rect x="131.25" y="276.00" width="2.9" height="2.7" fill="#fff"/>
<rect x="137.25" y="222.00" width="2.9" height="2.7" fill="#fff"/>
<rect x="137.25" y="228.00" width="2.9" height="2.7" fill="#fff"/>
<rect x="137.25" y="234.00" width="2.9" height="2.7" fill="#fff"/>
<rect x="137.25" y="240.00" width="2.9" height="2.7" fill="#fff"/>
<rect x="137.25" y="246.00" width="2.9" height="2.7" fill="#fff"/>
<rect x="137.25" y="252.00" width="2.9" height="2.7" fill="#fff"/>
<rect x="137.25" y="258.00" width="2.9" height="2.7" fill="#fff"/>
<rect x="137.25" y="264.00" width="2.9" height="2.7" fill="#fff"/>
<rect x="137.25" y="270.00" width="2.9" height="2.7" fill="#fff"/>
<rect x="137.25" y="276.00" width="2.9" height="2.7" fill="#fff"/>
</g>
<rect x="151.30" y="254.00" width="13.20" height="22.40" fill="#000"/>
<rect x="153.20" y="255.90" width="9.40" height="20.50" fill="#fff"/>
<rect x="157.00" y="250.30" width="1.80" height="3.70" fill="#000"/>
<rect x="154.15" y="250.30" width="7.50" height="1.80" fill="#000"/>
<rect x="164.50" y="268.50" width="8.20" height="1.90" fill="#000"/>
<rect x="164.50" y="270.40" width="8.20" height="6.00" fill="#d0d0d0"/>
<rect x="164.50" y="270.40" width="1.00" height="6.00" fill="#e4e4e4"/>
<rect x="171.30" y="270.40" width="1.00" height="6.00" fill="#e4e4e4"/>
<rect x="173.10" y="240.20" width="11.20" height="36.20" fill="#000"/>
<clipPath id="c32"><rect x="174.90" y="242.40" width="7.40" height="34.00"/></clipPath><g clip-path="url(#c32)">
<line x1="175.15" y1="276.05" x2="178.30" y2="272.90" stroke="#fff" stroke-width="1.4"/>
<line x1="178.95" y1="276.05" x2="182.10" y2="272.90" stroke="#fff" stroke-width="1.4"/>
<line x1="175.15" y1="272.30" x2="178.30" y2="269.15" stroke="#fff" stroke-width="1.4"/>
<line x1="178.95" y1="272.30" x2="182.10" y2="269.15" stroke="#fff" stroke-width="1.4"/>
<line x1="175.15" y1="268.55" x2="178.30" y2="265.40" stroke="#fff" stroke-width="1.4"/>
<line x1="178.95" y1="268.55" x2="182.10" y2="265.40" stroke="#fff" stroke-width="1.4"/>
<line x1="175.15" y1="264.80" x2="178.30" y2="261.65" stroke="#fff" stroke-width="1.4"/>
<line x1="178.95" y1="264.80" x2="182.10" y2="261.65" stroke="#fff" stroke-width="1.4"/>
<line x1="175.15" y1="261.05" x2="178.30" y2="257.90" stroke="#fff" stroke-width="1.4"/>
<line x1="178.95" y1="261.05" x2="182.10" y2="257.90" stroke="#fff" stroke-width="1.4"/>
<line x1="175.15" y1="257.30" x2="178.30" y2="254.15" stroke="#fff" stroke-width="1.4"/>
<line x1="178.95" y1="257.30" x2="182.10" y2="254.15" stroke="#fff" stroke-width="1.4"/>
<line x1="175.15" y1="253.55" x2="178.30" y2="250.40" stroke="#fff" stroke-width="1.4"/>
<line x1="178.95" y1="253.55" x2="182.10" y2="250.40" stroke="#fff" stroke-width="1.4"/>
<line x1="175.15" y1="249.80" x2="178.30" y2="246.65" stroke="#fff" stroke-width="1.4"/>
<line x1="178.95" y1="249.80" x2="182.10" y2="246.65" stroke="#fff" stroke-width="1.4"/>
<line x1="175.15" y1="246.05" x2="178.30" y2="242.90" stroke="#fff" stroke-width="1.4"/>
<line x1="178.95" y1="246.05" x2="182.10" y2="242.90" stroke="#fff" stroke-width="1.4"/>
<line x1="175.15" y1="242.30" x2="178.30" y2="239.15" stroke="#fff" stroke-width="1.4"/>
<line x1="178.95" y1="242.30" x2="182.10" y2="239.15" stroke="#fff" stroke-width="1.4"/>
<line x1="175.15" y1="238.55" x2="178.30" y2="235.40" stroke="#fff" stroke-width="1.4"/>
<line x1="178.95" y1="238.55" x2="182.10" y2="235.40" stroke="#fff" stroke-width="1.4"/>
</g>
<rect x="177.80" y="226.90" width="1.80" height="13.30" fill="#000"/>
<rect x="174.95" y="226.90" width="7.50" height="1.80" fill="#000"/>
<rect x="184.30" y="268.50" width="12.00" height="7.90" fill="#000"/>
<clipPath id="c33"><rect x="185.70" y="271.00" width="8.70" height="5.40"/></clipPath><g clip-path="url(#c33)">
<rect x="187.85" y="267.00" width="2.9" height="2.7" fill="#fff"/>
<rect x="187.85" y="273.00" width="2.9" height="2.7" fill="#fff"/>
<rect x="185.05" y="270.00" width="2.9" height="2.7" fill="#fff"/>
<rect x="185.05" y="276.00" width="2.9" height="2.7" fill="#fff"/>
<rect x="191.05" y="270.00" width="2.9" height="2.7" fill="#fff"/>
<rect x="191.05" y="276.00" width="2.9" height="2.7" fill="#fff"/>
</g>
<rect x="189.40" y="266.00" width="1.80" height="2.50" fill="#000"/>
<rect x="186.55" y="266.00" width="7.50" height="1.80" fill="#000"/>
<rect x="204.30" y="268.00" width="13.20" height="8.40" fill="#000"/>
<rect x="206.20" y="269.90" width="9.40" height="6.50" fill="#fff"/>
<rect x="217.50" y="271.30" width="8.20" height="1.90" fill="#000"/>
<rect x="217.50" y="273.20" width="8.20" height="3.20" fill="#d0d0d0"/>
<rect x="217.50" y="273.20" width="1.00" height="3.20" fill="#e4e4e4"/>
<rect x="224.30" y="273.20" width="1.00" height="3.20" fill="#e4e4e4"/>
<rect x="226.10" y="268.00" width="11.20" height="8.40" fill="#000"/>
<clipPath id="c34"><rect x="227.90" y="270.20" width="7.40" height="6.20"/></clipPath><g clip-path="url(#c34)">
<line x1="228.15" y1="276.05" x2="231.30" y2="272.90" stroke="#fff" stroke-width="1.4"/>
<line x1="231.95" y1="276.05" x2="235.10" y2="272.90" stroke="#fff" stroke-width="1.4"/>
<line x1="228.15" y1="272.30" x2="231.30" y2="269.15" stroke="#fff" stroke-width="1.4"/>
<line x1="231.95" y1="272.30" x2="235.10" y2="269.15" stroke="#fff" stroke-width="1.4"/>
<line x1="228.15" y1="268.55" x2="231.30" y2="265.40" stroke="#fff" stroke-width="1.4"/>
<line x1="231.95" y1="268.55" x2="235.10" y2="265.40" stroke="#fff" stroke-width="1.4"/>
</g>
<rect x="237.30" y="273.00" width="12.00" height="3.40" fill="#000"/>
<clipPath id="c35"><rect x="238.70" y="275.50" width="8.70" height="0.90"/></clipPath><g clip-path="url(#c35)">
<rect x="240.85" y="271.50" width="2.9" height="2.7" fill="#fff"/>
<rect x="238.05" y="274.50" width="2.9" height="2.7" fill="#fff"/>
<rect x="244.05" y="274.50" width="2.9" height="2.7" fill="#fff"/>
</g>
<text x="66.30" y="288.80" font-size="8.4" text-anchor="middle" >1</text>
<text x="120.40" y="288.80" font-size="8.4" text-anchor="middle" >2</text>
<text x="173.20" y="288.80" font-size="8.4" text-anchor="middle" >4</text>
<text x="226.90" y="288.80" font-size="8.4" text-anchor="middle" >6</text>
<text x="148.50" y="300.60" font-size="9.2" text-anchor="middle" >Weeks</text>
<text x="168.30" y="268.00" font-size="8.4" text-anchor="middle" >*</text>
<text x="190.40" y="265.60" font-size="8.4" text-anchor="middle" >**</text>
<text x="222.50" y="269.60" font-size="8.4" text-anchor="middle" >**</text>
<text x="243.80" y="272.50" font-size="8.4" text-anchor="middle" >**</text>
<text transform="translate(18.3,221) rotate(-90)" font-size="8.2" text-anchor="middle">CAFC/10<tspan dy="-3.4" font-size="6.4">5</tspan><tspan dy="3.4"> BMCs</tspan></text>
<rect x="172.00" y="159.00" width="18.60" height="6.80" rx="1.3" fill="#000"/>
<rect x="174.20" y="161.20" width="14.20" height="2.40" fill="#fff"/>
<text x="199.00" y="166.40" font-size="8.2">p16Arf<tspan dy="-4.5" font-size="5.9">+/+</tspan></text>
<rect x="172.00" y="168.50" width="18.60" height="8.00" rx="1.3" fill="#000"/>
<rect x="174.20" y="170.70" width="14.20" height="3.60" fill="#d0d0d0"/>
<text x="199.00" y="176.50" font-size="8.2">p16Arf<tspan dy="-4.5" font-size="5.9">+/+</tspan><tspan dy="4.5">/TBI</tspan></text>
<rect x="172.00" y="180.60" width="18.60" height="6.00" rx="1.3" fill="#000"/>
<line x1="175.37" y1="184.30" x2="177.57" y2="182.90" stroke="#fff" stroke-width="1.3"/>
<line x1="179.01" y1="184.30" x2="181.21" y2="182.90" stroke="#fff" stroke-width="1.3"/>
<line x1="182.65" y1="184.30" x2="184.85" y2="182.90" stroke="#fff" stroke-width="1.3"/>
<line x1="186.30" y1="184.30" x2="188.50" y2="182.90" stroke="#fff" stroke-width="1.3"/>
<text x="199.00" y="187.60" font-size="8.2">p16Arf<tspan dy="-4.5" font-size="5.9">-/-</tspan></text>
<rect x="172.00" y="190.70" width="18.60" height="7.40" rx="1.3" fill="#000"/>
<rect x="174.80" y="192.90" width="2.00" height="1.40" fill="#fff"/>
<rect x="177.70" y="194.60" width="2.00" height="1.40" fill="#fff"/>
<rect x="180.60" y="192.90" width="2.00" height="1.40" fill="#fff"/>
<rect x="183.50" y="194.60" width="2.00" height="1.40" fill="#fff"/>
<rect x="186.40" y="192.90" width="2.00" height="1.40" fill="#fff"/>
<text x="199.00" y="197.20" font-size="8.2">p16Arf<tspan dy="-4.5" font-size="5.9">-/-</tspan><tspan dy="4.5">/TBI</tspan></text>
<text x="257.20" y="163.40" font-size="11.4" text-anchor="start" >D</text>
<rect x="294.50" y="163.20" width="1.60" height="114.50" fill="#000"/>
<rect x="294.50" y="276.10" width="214.30" height="1.60" fill="#000"/>
<rect x="290.80" y="163.20" width="4.50" height="1.40" fill="#000"/>
<text x="289.80" y="166.90" font-size="8.4" text-anchor="end" >30</text>
<rect x="290.80" y="200.50" width="4.50" height="1.40" fill="#000"/>
<text x="289.80" y="204.20" font-size="8.4" text-anchor="end" >20</text>
<rect x="290.80" y="238.10" width="4.50" height="1.40" fill="#000"/>
<text x="289.80" y="241.80" font-size="8.4" text-anchor="end" >10</text>
<rect x="290.80" y="276.10" width="4.50" height="1.40" fill="#000"/>
<text x="289.80" y="279.80" font-size="8.4" text-anchor="end" >0</text>
<rect x="298.40" y="243.50" width="7.30" height="33.40" fill="#000"/>
<rect x="300.30" y="245.40" width="3.50" height="31.50" fill="#fff"/>
<rect x="301.15" y="236.00" width="1.80" height="7.50" fill="#000"/>
<rect x="299.30" y="236.00" width="5.50" height="1.80" fill="#000"/>
<rect x="305.70" y="245.20" width="7.70" height="31.70" fill="#000"/>
<rect x="307.20" y="246.80" width="4.60" height="30.10" fill="#d0d0d0"/>
<rect x="308.65" y="232.10" width="1.80" height="13.10" fill="#000"/>
<rect x="306.80" y="232.10" width="5.50" height="1.80" fill="#000"/>
<rect x="313.40" y="244.90" width="6.20" height="32.00" fill="#000"/>
<clipPath id="c36"><rect x="314.60" y="246.50" width="3.80" height="30.40"/></clipPath><g clip-path="url(#c36)">
<line x1="314.30" y1="276.60" x2="318.70" y2="273.60" stroke="#fff" stroke-width="1.25"/>
<line x1="314.30" y1="273.30" x2="318.70" y2="270.30" stroke="#fff" stroke-width="1.25"/>
<line x1="314.30" y1="270.00" x2="318.70" y2="267.00" stroke="#fff" stroke-width="1.25"/>
<line x1="314.30" y1="266.70" x2="318.70" y2="263.70" stroke="#fff" stroke-width="1.25"/>
<line x1="314.30" y1="263.40" x2="318.70" y2="260.40" stroke="#fff" stroke-width="1.25"/>
<line x1="314.30" y1="260.10" x2="318.70" y2="257.10" stroke="#fff" stroke-width="1.25"/>
<line x1="314.30" y1="256.80" x2="318.70" y2="253.80" stroke="#fff" stroke-width="1.25"/>
<line x1="314.30" y1="253.50" x2="318.70" y2="250.50" stroke="#fff" stroke-width="1.25"/>
<line x1="314.30" y1="250.20" x2="318.70" y2="247.20" stroke="#fff" stroke-width="1.25"/>
<line x1="314.30" y1="246.90" x2="318.70" y2="243.90" stroke="#fff" stroke-width="1.25"/>
<line x1="314.30" y1="243.60" x2="318.70" y2="240.60" stroke="#fff" stroke-width="1.25"/>
</g>
<rect x="315.60" y="243.00" width="1.80" height="1.90" fill="#000"/>
<rect x="313.75" y="243.00" width="5.50" height="1.80" fill="#000"/>
<rect x="319.00" y="251.50" width="9.30" height="25.40" fill="#000"/>
<clipPath id="c37"><rect x="320.20" y="253.50" width="6.90" height="23.40"/></clipPath><g clip-path="url(#c37)">
<rect x="321.29" y="248.70" width="2.1" height="1.9" fill="#fff"/>
<rect x="321.29" y="254.50" width="2.1" height="1.9" fill="#fff"/>
<rect x="321.29" y="260.30" width="2.1" height="1.9" fill="#fff"/>
<rect x="321.29" y="266.10" width="2.1" height="1.9" fill="#fff"/>
<rect x="321.29" y="271.90" width="2.1" height="1.9" fill="#fff"/>
<rect x="323.77" y="251.60" width="2.1" height="1.9" fill="#fff"/>
<rect x="323.77" y="257.40" width="2.1" height="1.9" fill="#fff"/>
<rect x="323.77" y="263.20" width="2.1" height="1.9" fill="#fff"/>
<rect x="323.77" y="269.00" width="2.1" height="1.9" fill="#fff"/>
<rect x="323.77" y="274.80" width="2.1" height="1.9" fill="#fff"/>
</g>
<rect x="322.75" y="247.70" width="1.80" height="3.80" fill="#000"/>
<rect x="320.90" y="247.70" width="5.50" height="1.80" fill="#000"/>
<rect x="334.00" y="243.00" width="7.30" height="33.90" fill="#000"/>
<rect x="335.90" y="244.90" width="3.50" height="32.00" fill="#fff"/>
<rect x="336.75" y="236.30" width="1.80" height="6.70" fill="#000"/>
<rect x="334.90" y="236.30" width="5.50" height="1.80" fill="#000"/>
<rect x="341.30" y="200.80" width="7.70" height="76.10" fill="#000"/>
<rect x="342.80" y="202.40" width="4.60" height="74.50" fill="#d0d0d0"/>
<rect x="344.25" y="180.00" width="1.80" height="20.80" fill="#000"/>
<rect x="342.40" y="180.00" width="5.50" height="1.80" fill="#000"/>
<rect x="349.00" y="232.20" width="6.20" height="44.70" fill="#000"/>
<clipPath id="c38"><rect x="350.20" y="233.80" width="3.80" height="43.10"/></clipPath><g clip-path="url(#c38)">
<line x1="349.90" y1="276.60" x2="354.30" y2="273.60" stroke="#fff" stroke-width="1.25"/>
<line x1="349.90" y1="273.30" x2="354.30" y2="270.30" stroke="#fff" stroke-width="1.25"/>
<line x1="349.90" y1="270.00" x2="354.30" y2="267.00" stroke="#fff" stroke-width="1.25"/>
<line x1="349.90" y1="266.70" x2="354.30" y2="263.70" stroke="#fff" stroke-width="1.25"/>
<line x1="349.90" y1="263.40" x2="354.30" y2="260.40" stroke="#fff" stroke-width="1.25"/>
<line x1="349.90" y1="260.10" x2="354.30" y2="257.10" stroke="#fff" stroke-width="1.25"/>
<line x1="349.90" y1="256.80" x2="354.30" y2="253.80" stroke="#fff" stroke-width="1.25"/>
<line x1="349.90" y1="253.50" x2="354.30" y2="250.50" stroke="#fff" stroke-width="1.25"/>
<line x1="349.90" y1="250.20" x2="354.30" y2="247.20" stroke="#fff" stroke-width="1.25"/>
<line x1="349.90" y1="246.90" x2="354.30" y2="243.90" stroke="#fff" stroke-width="1.25"/>
<line x1="349.90" y1="243.60" x2="354.30" y2="240.60" stroke="#fff" stroke-width="1.25"/>
<line x1="349.90" y1="240.30" x2="354.30" y2="237.30" stroke="#fff" stroke-width="1.25"/>
<line x1="349.90" y1="237.00" x2="354.30" y2="234.00" stroke="#fff" stroke-width="1.25"/>
<line x1="349.90" y1="233.70" x2="354.30" y2="230.70" stroke="#fff" stroke-width="1.25"/>
<line x1="349.90" y1="230.40" x2="354.30" y2="227.40" stroke="#fff" stroke-width="1.25"/>
</g>
<rect x="354.60" y="205.00" width="9.30" height="71.90" fill="#000"/>
<clipPath id="c39"><rect x="355.80" y="207.00" width="6.90" height="69.90"/></clipPath><g clip-path="url(#c39)">
<rect x="356.89" y="202.20" width="2.1" height="1.9" fill="#fff"/>
<rect x="356.89" y="208.00" width="2.1" height="1.9" fill="#fff"/>
<rect x="356.89" y="213.80" width="2.1" height="1.9" fill="#fff"/>
<rect x="356.89" y="219.60" width="2.1" height="1.9" fill="#fff"/>
<rect x="356.89" y="225.40" width="2.1" height="1.9" fill="#fff"/>
<rect x="356.89" y="231.20" width="2.1" height="1.9" fill="#fff"/>
<rect x="356.89" y="237.00" width="2.1" height="1.9" fill="#fff"/>
<rect x="356.89" y="242.80" width="2.1" height="1.9" fill="#fff"/>
<rect x="356.89" y="248.60" width="2.1" height="1.9" fill="#fff"/>
<rect x="356.89" y="254.40" width="2.1" height="1.9" fill="#fff"/>
<rect x="356.89" y="260.20" width="2.1" height="1.9" fill="#fff"/>
<rect x="356.89" y="266.00" width="2.1" height="1.9" fill="#fff"/>
<rect x="356.89" y="271.80" width="2.1" height="1.9" fill="#fff"/>
<rect x="359.37" y="205.10" width="2.1" height="1.9" fill="#fff"/>
<rect x="359.37" y="210.90" width="2.1" height="1.9" fill="#fff"/>
<rect x="359.37" y="216.70" width="2.1" height="1.9" fill="#fff"/>
<rect x="359.37" y="222.50" width="2.1" height="1.9" fill="#fff"/>
<rect x="359.37" y="228.30" width="2.1" height="1.9" fill="#fff"/>
<rect x="359.37" y="234.10" width="2.1" height="1.9" fill="#fff"/>
<rect x="359.37" y="239.90" width="2.1" height="1.9" fill="#fff"/>
<rect x="359.37" y="245.70" width="2.1" height="1.9" fill="#fff"/>
<rect x="359.37" y="251.50" width="2.1" height="1.9" fill="#fff"/>
<rect x="359.37" y="257.30" width="2.1" height="1.9" fill="#fff"/>
<rect x="359.37" y="263.10" width="2.1" height="1.9" fill="#fff"/>
<rect x="359.37" y="268.90" width="2.1" height="1.9" fill="#fff"/>
<rect x="359.37" y="274.70" width="2.1" height="1.9" fill="#fff"/>
</g>
<rect x="358.35" y="203.70" width="1.80" height="1.30" fill="#000"/>
<rect x="356.50" y="203.70" width="5.50" height="1.80" fill="#000"/>
<rect x="368.80" y="254.40" width="7.30" height="22.50" fill="#000"/>
<rect x="370.70" y="256.30" width="3.50" height="20.60" fill="#fff"/>
<rect x="371.55" y="249.60" width="1.80" height="4.80" fill="#000"/>
<rect x="369.70" y="249.60" width="5.50" height="1.80" fill="#000"/>
<rect x="376.10" y="216.20" width="7.70" height="60.70" fill="#000"/>
<rect x="377.60" y="217.80" width="4.60" height="59.10" fill="#d0d0d0"/>
<rect x="379.05" y="201.30" width="1.80" height="14.90" fill="#000"/>
<rect x="377.20" y="201.30" width="5.50" height="1.80" fill="#000"/>
<rect x="383.80" y="256.40" width="6.20" height="20.50" fill="#000"/>
<clipPath id="c40"><rect x="385.00" y="258.00" width="3.80" height="18.90"/></clipPath><g clip-path="url(#c40)">
<line x1="384.70" y1="276.60" x2="389.10" y2="273.60" stroke="#fff" stroke-width="1.25"/>
<line x1="384.70" y1="273.30" x2="389.10" y2="270.30" stroke="#fff" stroke-width="1.25"/>
<line x1="384.70" y1="270.00" x2="389.10" y2="267.00" stroke="#fff" stroke-width="1.25"/>
<line x1="384.70" y1="266.70" x2="389.10" y2="263.70" stroke="#fff" stroke-width="1.25"/>
<line x1="384.70" y1="263.40" x2="389.10" y2="260.40" stroke="#fff" stroke-width="1.25"/>
<line x1="384.70" y1="260.10" x2="389.10" y2="257.10" stroke="#fff" stroke-width="1.25"/>
<line x1="384.70" y1="256.80" x2="389.10" y2="253.80" stroke="#fff" stroke-width="1.25"/>
</g>
<rect x="389.40" y="220.00" width="9.30" height="56.90" fill="#000"/>
<clipPath id="c41"><rect x="390.60" y="222.00" width="6.90" height="54.90"/></clipPath><g clip-path="url(#c41)">
<rect x="391.69" y="217.20" width="2.1" height="1.9" fill="#fff"/>
<rect x="391.69" y="223.00" width="2.1" height="1.9" fill="#fff"/>
<rect x="391.69" y="228.80" width="2.1" height="1.9" fill="#fff"/>
<rect x="391.69" y="234.60" width="2.1" height="1.9" fill="#fff"/>
<rect x="391.69" y="240.40" width="2.1" height="1.9" fill="#fff"/>
<rect x="391.69" y="246.20" width="2.1" height="1.9" fill="#fff"/>
<rect x="391.69" y="252.00" width="2.1" height="1.9" fill="#fff"/>
<rect x="391.69" y="257.80" width="2.1" height="1.9" fill="#fff"/>
<rect x="391.69" y="263.60" width="2.1" height="1.9" fill="#fff"/>
<rect x="391.69" y="269.40" width="2.1" height="1.9" fill="#fff"/>
<rect x="391.69" y="275.20" width="2.1" height="1.9" fill="#fff"/>
<rect x="394.17" y="220.10" width="2.1" height="1.9" fill="#fff"/>
<rect x="394.17" y="225.90" width="2.1" height="1.9" fill="#fff"/>
<rect x="394.17" y="231.70" width="2.1" height="1.9" fill="#fff"/>
<rect x="394.17" y="237.50" width="2.1" height="1.9" fill="#fff"/>
<rect x="394.17" y="243.30" width="2.1" height="1.9" fill="#fff"/>
<rect x="394.17" y="249.10" width="2.1" height="1.9" fill="#fff"/>
<rect x="394.17" y="254.90" width="2.1" height="1.9" fill="#fff"/>
<rect x="394.17" y="260.70" width="2.1" height="1.9" fill="#fff"/>
<rect x="394.17" y="266.50" width="2.1" height="1.9" fill="#fff"/>
<rect x="394.17" y="272.30" width="2.1" height="1.9" fill="#fff"/>
</g>
<rect x="393.15" y="219.00" width="1.80" height="1.00" fill="#000"/>
<rect x="391.30" y="219.00" width="5.50" height="1.80" fill="#000"/>
<rect x="404.40" y="268.60" width="7.30" height="8.30" fill="#000"/>
<rect x="406.30" y="270.50" width="3.50" height="6.40" fill="#fff"/>
<rect x="407.15" y="264.30" width="1.80" height="4.30" fill="#000"/>
<rect x="405.30" y="264.30" width="5.50" height="1.80" fill="#000"/>
<rect x="411.70" y="247.00" width="7.70" height="29.90" fill="#000"/>
<rect x="413.20" y="248.60" width="4.60" height="28.30" fill="#d0d0d0"/>
<rect x="414.65" y="239.10" width="1.80" height="7.90" fill="#000"/>
<rect x="412.80" y="239.10" width="5.50" height="1.80" fill="#000"/>
<rect x="419.40" y="268.00" width="6.20" height="8.90" fill="#000"/>
<clipPath id="c42"><rect x="420.60" y="269.60" width="3.80" height="7.30"/></clipPath><g clip-path="url(#c42)">
<line x1="420.30" y1="276.60" x2="424.70" y2="273.60" stroke="#fff" stroke-width="1.25"/>
<line x1="420.30" y1="273.30" x2="424.70" y2="270.30" stroke="#fff" stroke-width="1.25"/>
<line x1="420.30" y1="270.00" x2="424.70" y2="267.00" stroke="#fff" stroke-width="1.25"/>
<line x1="420.30" y1="266.70" x2="424.70" y2="263.70" stroke="#fff" stroke-width="1.25"/>
</g>
<rect x="425.00" y="252.50" width="9.30" height="24.40" fill="#000"/>
<clipPath id="c43"><rect x="426.20" y="254.50" width="6.90" height="22.40"/></clipPath><g clip-path="url(#c43)">
<rect x="427.29" y="249.70" width="2.1" height="1.9" fill="#fff"/>
<rect x="427.29" y="255.50" width="2.1" height="1.9" fill="#fff"/>
<rect x="427.29" y="261.30" width="2.1" height="1.9" fill="#fff"/>
<rect x="427.29" y="267.10" width="2.1" height="1.9" fill="#fff"/>
<rect x="427.29" y="272.90" width="2.1" height="1.9" fill="#fff"/>
<rect x="429.77" y="252.60" width="2.1" height="1.9" fill="#fff"/>
<rect x="429.77" y="258.40" width="2.1" height="1.9" fill="#fff"/>
<rect x="429.77" y="264.20" width="2.1" height="1.9" fill="#fff"/>
<rect x="429.77" y="270.00" width="2.1" height="1.9" fill="#fff"/>
<rect x="429.77" y="275.80" width="2.1" height="1.9" fill="#fff"/>
</g>
<rect x="428.75" y="247.10" width="1.80" height="5.40" fill="#000"/>
<rect x="426.90" y="247.10" width="5.50" height="1.80" fill="#000"/>
<rect x="440.40" y="262.20" width="7.30" height="14.70" fill="#000"/>
<rect x="442.30" y="264.10" width="3.50" height="12.80" fill="#fff"/>
<rect x="443.15" y="261.00" width="1.80" height="1.20" fill="#000"/>
<rect x="441.30" y="261.00" width="5.50" height="1.80" fill="#000"/>
<rect x="447.70" y="232.00" width="7.70" height="44.90" fill="#000"/>
<rect x="449.20" y="233.60" width="4.60" height="43.30" fill="#d0d0d0"/>
<rect x="450.65" y="215.80" width="1.80" height="16.20" fill="#000"/>
<rect x="448.80" y="215.80" width="5.50" height="1.80" fill="#000"/>
<rect x="455.40" y="256.30" width="6.20" height="20.60" fill="#000"/>
<clipPath id="c44"><rect x="456.60" y="257.90" width="3.80" height="19.00"/></clipPath><g clip-path="url(#c44)">
<line x1="456.30" y1="276.60" x2="460.70" y2="273.60" stroke="#fff" stroke-width="1.25"/>
<line x1="456.30" y1="273.30" x2="460.70" y2="270.30" stroke="#fff" stroke-width="1.25"/>
<line x1="456.30" y1="270.00" x2="460.70" y2="267.00" stroke="#fff" stroke-width="1.25"/>
<line x1="456.30" y1="266.70" x2="460.70" y2="263.70" stroke="#fff" stroke-width="1.25"/>
<line x1="456.30" y1="263.40" x2="460.70" y2="260.40" stroke="#fff" stroke-width="1.25"/>
<line x1="456.30" y1="260.10" x2="460.70" y2="257.10" stroke="#fff" stroke-width="1.25"/>
<line x1="456.30" y1="256.80" x2="460.70" y2="253.80" stroke="#fff" stroke-width="1.25"/>
</g>
<rect x="461.00" y="222.00" width="9.30" height="54.90" fill="#000"/>
<clipPath id="c45"><rect x="462.20" y="224.00" width="6.90" height="52.90"/></clipPath><g clip-path="url(#c45)">
<rect x="463.29" y="219.20" width="2.1" height="1.9" fill="#fff"/>
<rect x="463.29" y="225.00" width="2.1" height="1.9" fill="#fff"/>
<rect x="463.29" y="230.80" width="2.1" height="1.9" fill="#fff"/>
<rect x="463.29" y="236.60" width="2.1" height="1.9" fill="#fff"/>
<rect x="463.29" y="242.40" width="2.1" height="1.9" fill="#fff"/>
<rect x="463.29" y="248.20" width="2.1" height="1.9" fill="#fff"/>
<rect x="463.29" y="254.00" width="2.1" height="1.9" fill="#fff"/>
<rect x="463.29" y="259.80" width="2.1" height="1.9" fill="#fff"/>
<rect x="463.29" y="265.60" width="2.1" height="1.9" fill="#fff"/>
<rect x="463.29" y="271.40" width="2.1" height="1.9" fill="#fff"/>
<rect x="465.77" y="222.10" width="2.1" height="1.9" fill="#fff"/>
<rect x="465.77" y="227.90" width="2.1" height="1.9" fill="#fff"/>
<rect x="465.77" y="233.70" width="2.1" height="1.9" fill="#fff"/>
<rect x="465.77" y="239.50" width="2.1" height="1.9" fill="#fff"/>
<rect x="465.77" y="245.30" width="2.1" height="1.9" fill="#fff"/>
<rect x="465.77" y="251.10" width="2.1" height="1.9" fill="#fff"/>
<rect x="465.77" y="256.90" width="2.1" height="1.9" fill="#fff"/>
<rect x="465.77" y="262.70" width="2.1" height="1.9" fill="#fff"/>
<rect x="465.77" y="268.50" width="2.1" height="1.9" fill="#fff"/>
<rect x="465.77" y="274.30" width="2.1" height="1.9" fill="#fff"/>
</g>
<rect x="464.75" y="216.30" width="1.80" height="5.70" fill="#000"/>
<rect x="462.90" y="216.30" width="5.50" height="1.80" fill="#000"/>
<rect x="475.60" y="272.00" width="7.30" height="4.90" fill="#000"/>
<rect x="477.50" y="273.90" width="3.50" height="3.00" fill="#fff"/>
<rect x="482.90" y="216.30" width="7.70" height="60.60" fill="#000"/>
<rect x="484.40" y="217.90" width="4.60" height="59.00" fill="#d0d0d0"/>
<rect x="485.85" y="214.80" width="1.80" height="1.50" fill="#000"/>
<rect x="484.00" y="214.80" width="5.50" height="1.80" fill="#000"/>
<rect x="490.60" y="257.00" width="6.20" height="19.90" fill="#000"/>
<clipPath id="c46"><rect x="491.80" y="258.60" width="3.80" height="18.30"/></clipPath><g clip-path="url(#c46)">
<line x1="491.50" y1="276.60" x2="495.90" y2="273.60" stroke="#fff" stroke-width="1.25"/>
<line x1="491.50" y1="273.30" x2="495.90" y2="270.30" stroke="#fff" stroke-width="1.25"/>
<line x1="491.50" y1="270.00" x2="495.90" y2="267.00" stroke="#fff" stroke-width="1.25"/>
<line x1="491.50" y1="266.70" x2="495.90" y2="263.70" stroke="#fff" stroke-width="1.25"/>
<line x1="491.50" y1="263.40" x2="495.90" y2="260.40" stroke="#fff" stroke-width="1.25"/>
<line x1="491.50" y1="260.10" x2="495.90" y2="257.10" stroke="#fff" stroke-width="1.25"/>
<line x1="491.50" y1="256.80" x2="495.90" y2="253.80" stroke="#fff" stroke-width="1.25"/>
</g>
<rect x="496.20" y="217.00" width="9.30" height="59.90" fill="#000"/>
<clipPath id="c47"><rect x="497.40" y="219.00" width="6.90" height="57.90"/></clipPath><g clip-path="url(#c47)">
<rect x="498.49" y="214.20" width="2.1" height="1.9" fill="#fff"/>
<rect x="498.49" y="220.00" width="2.1" height="1.9" fill="#fff"/>
<rect x="498.49" y="225.80" width="2.1" height="1.9" fill="#fff"/>
<rect x="498.49" y="231.60" width="2.1" height="1.9" fill="#fff"/>
<rect x="498.49" y="237.40" width="2.1" height="1.9" fill="#fff"/>
<rect x="498.49" y="243.20" width="2.1" height="1.9" fill="#fff"/>
<rect x="498.49" y="249.00" width="2.1" height="1.9" fill="#fff"/>
<rect x="498.49" y="254.80" width="2.1" height="1.9" fill="#fff"/>
<rect x="498.49" y="260.60" width="2.1" height="1.9" fill="#fff"/>
<rect x="498.49" y="266.40" width="2.1" height="1.9" fill="#fff"/>
<rect x="498.49" y="272.20" width="2.1" height="1.9" fill="#fff"/>
<rect x="500.97" y="217.10" width="2.1" height="1.9" fill="#fff"/>
<rect x="500.97" y="222.90" width="2.1" height="1.9" fill="#fff"/>
<rect x="500.97" y="228.70" width="2.1" height="1.9" fill="#fff"/>
<rect x="500.97" y="234.50" width="2.1" height="1.9" fill="#fff"/>
<rect x="500.97" y="240.30" width="2.1" height="1.9" fill="#fff"/>
<rect x="500.97" y="246.10" width="2.1" height="1.9" fill="#fff"/>
<rect x="500.97" y="251.90" width="2.1" height="1.9" fill="#fff"/>
<rect x="500.97" y="257.70" width="2.1" height="1.9" fill="#fff"/>
<rect x="500.97" y="263.50" width="2.1" height="1.9" fill="#fff"/>
<rect x="500.97" y="269.30" width="2.1" height="1.9" fill="#fff"/>
<rect x="500.97" y="275.10" width="2.1" height="1.9" fill="#fff"/>
</g>
<rect x="499.95" y="207.20" width="1.80" height="9.80" fill="#000"/>
<rect x="498.10" y="207.20" width="5.50" height="1.80" fill="#000"/>
<text x="345.50" y="176.90" font-size="8.4" text-anchor="middle" >***</text>
<text x="360.60" y="201.00" font-size="8.4" text-anchor="middle" >***</text>
<text x="381.30" y="198.60" font-size="8.4" text-anchor="middle" >**</text>
<text x="395.00" y="216.70" font-size="8.4" text-anchor="middle" >**</text>
<text x="416.20" y="237.60" font-size="8.4" text-anchor="middle" >**</text>
<text x="431.00" y="246.30" font-size="8.4" text-anchor="middle" >**</text>
<text x="452.00" y="213.60" font-size="8.4" text-anchor="middle" >**</text>
<text x="465.70" y="215.10" font-size="8.4" text-anchor="middle" >**</text>
<text x="487.20" y="213.60" font-size="8.4" text-anchor="middle" >***</text>
<text x="501.50" y="203.60" font-size="8.4" text-anchor="middle" >***</text>
<text x="314.00" y="286.40" font-size="8.4" text-anchor="middle" >HPC</text>
<text x="349.00" y="286.40" font-size="8.4" text-anchor="middle" >LSK</text>
<text x="386.30" y="286.40" font-size="8.4" text-anchor="middle" >MPP</text>
<text x="423.00" y="286.40" font-size="8.4" text-anchor="middle" >HSC</text>
<text x="449.40" y="286.40" font-size="8.4" text-anchor="start" >ST-</text>
<text x="449.40" y="298.30" font-size="8.4" text-anchor="start" >HSC</text>
<text x="483.20" y="286.40" font-size="8.4" text-anchor="start" >LT-</text>
<text x="483.20" y="298.30" font-size="8.4" text-anchor="start" >HSC</text>
<text transform="translate(276.4,224) rotate(-90)" font-size="8.2" text-anchor="middle">SA-<tspan font-family="Liberation Serif, serif" font-weight="normal">&#946;</tspan> gal + cells%</text>
<rect x="402.70" y="157.40" width="17.90" height="6.70" rx="1.3" fill="#000"/>
<rect x="404.90" y="159.60" width="13.50" height="2.30" fill="#fff"/>
<text x="429.60" y="166.10" font-size="8.2">p16Arf<tspan dy="-4.5" font-size="5.9">+/+</tspan></text>
<rect x="402.70" y="167.50" width="17.90" height="6.70" rx="1.3" fill="#000"/>
<rect x="404.90" y="169.70" width="13.50" height="2.30" fill="#d0d0d0"/>
<text x="429.60" y="175.60" font-size="8.2">p16Arf<tspan dy="-4.5" font-size="5.9">+/+</tspan><tspan dy="4.5">/TBI</tspan></text>
<rect x="402.70" y="178.20" width="17.90" height="6.10" rx="1.3" fill="#000"/>
<line x1="405.96" y1="182.00" x2="408.16" y2="180.50" stroke="#fff" stroke-width="1.3"/>
<line x1="409.42" y1="182.00" x2="411.62" y2="180.50" stroke="#fff" stroke-width="1.3"/>
<line x1="412.88" y1="182.00" x2="415.08" y2="180.50" stroke="#fff" stroke-width="1.3"/>
<line x1="416.34" y1="182.00" x2="418.54" y2="180.50" stroke="#fff" stroke-width="1.3"/>
<text x="429.60" y="185.60" font-size="8.2">p16Arf<tspan dy="-4.5" font-size="5.9">-/-</tspan></text>
<rect x="402.70" y="187.00" width="17.90" height="7.40" rx="1.3" fill="#000"/>
<rect x="405.50" y="189.20" width="2.00" height="1.40" fill="#fff"/>
<rect x="408.40" y="190.90" width="2.00" height="1.40" fill="#fff"/>
<rect x="411.30" y="189.20" width="2.00" height="1.40" fill="#fff"/>
<rect x="414.20" y="190.90" width="2.00" height="1.40" fill="#fff"/>
<text x="429.60" y="193.70" font-size="8.2">p16Arf<tspan dy="-4.5" font-size="5.9">-/-</tspan><tspan dy="4.5">/TBI</tspan></text>
<text x="1.60" y="320.40" font-size="11.4" text-anchor="start" >E</text>
<rect x="29.80" y="333.80" width="1.60" height="114.30" fill="#000"/>
<rect x="29.80" y="446.50" width="77.80" height="1.60" fill="#000"/>
<rect x="26.00" y="333.80" width="4.60" height="1.40" fill="#000"/>
<text x="25.00" y="337.50" font-size="8.4" text-anchor="end" >100</text>
<rect x="26.00" y="356.30" width="4.60" height="1.40" fill="#000"/>
<text x="25.00" y="360.00" font-size="8.4" text-anchor="end" >80</text>
<rect x="26.00" y="378.90" width="4.60" height="1.40" fill="#000"/>
<text x="25.00" y="382.60" font-size="8.4" text-anchor="end" >60</text>
<rect x="26.00" y="401.50" width="4.60" height="1.40" fill="#000"/>
<text x="25.00" y="405.20" font-size="8.4" text-anchor="end" >40</text>
<rect x="26.00" y="424.10" width="4.60" height="1.40" fill="#000"/>
<text x="25.00" y="427.80" font-size="8.4" text-anchor="end" >20</text>
<rect x="26.00" y="446.60" width="4.60" height="1.40" fill="#000"/>
<text x="25.00" y="450.30" font-size="8.4" text-anchor="end" >0</text>
<rect x="42.80" y="447.30" width="1.40" height="4.60" fill="#000"/>
<text x="43.50" y="463.20" font-size="8.4" text-anchor="middle" >1</text>
<rect x="67.90" y="447.30" width="1.40" height="4.60" fill="#000"/>
<text x="68.60" y="463.20" font-size="8.4" text-anchor="middle" >2</text>
<rect x="93.40" y="447.30" width="1.40" height="4.60" fill="#000"/>
<text x="94.10" y="463.20" font-size="8.4" text-anchor="middle" >3</text>
<text x="79.50" y="344.20" font-size="8.4" text-anchor="middle" >Total cells</text>
<polyline points="43.50,372.00 68.60,365.50 94.10,365.00" fill="none" stroke="#000" stroke-width="2.6"/>
<circle cx="43.50" cy="372.00" r="4.1" fill="none" stroke="#000" stroke-width="2.1"/>
<circle cx="68.60" cy="365.50" r="4.1" fill="none" stroke="#000" stroke-width="2.1"/>
<circle cx="94.10" cy="365.00" r="4.1" fill="none" stroke="#000" stroke-width="2.1"/>
<rect x="42.55" y="404.00" width="1.90" height="8.50" fill="#000"/>
<rect x="38.30" y="404.00" width="10.40" height="1.90" fill="#000"/>
<rect x="67.65" y="411.00" width="1.90" height="8.80" fill="#000"/>
<rect x="63.40" y="411.00" width="10.40" height="1.90" fill="#000"/>
<rect x="93.15" y="420.50" width="1.90" height="6.50" fill="#000"/>
<rect x="88.90" y="420.50" width="10.40" height="1.90" fill="#000"/>
<polyline points="43.50,412.50 68.60,419.80 94.10,427.00" fill="none" stroke="#000" stroke-width="2.6"/>
<path d="M43.50,407.20L48.80,417.80L38.20,417.80Z M43.50,412.34L41.92,415.50L45.08,415.50Z" fill="#000" fill-rule="evenodd"/>
<path d="M68.60,414.50L73.90,425.10L63.30,425.10Z M68.60,419.64L67.02,422.80L70.18,422.80Z" fill="#000" fill-rule="evenodd"/>
<path d="M94.10,421.70L99.40,432.30L88.80,432.30Z M94.10,426.84L92.52,430.00L95.68,430.00Z" fill="#000" fill-rule="evenodd"/>
<rect x="67.65" y="354.50" width="1.90" height="10.00" fill="#000"/>
<rect x="63.40" y="354.50" width="10.40" height="1.90" fill="#000"/>
<rect x="93.15" y="352.50" width="1.90" height="6.00" fill="#000"/>
<rect x="88.90" y="352.50" width="10.40" height="1.90" fill="#000"/>
<polyline points="43.50,371.50 68.60,364.50 94.10,358.50" fill="none" stroke="#000" stroke-width="2.6"/>
<rect x="39.20" y="367.20" width="8.6" height="8.6" fill="#d0d0d0" stroke="#000" stroke-width="2.4"/>
<rect x="64.30" y="360.20" width="8.6" height="8.6" fill="#d0d0d0" stroke="#000" stroke-width="2.4"/>
<rect x="89.80" y="354.20" width="8.6" height="8.6" fill="#d0d0d0" stroke="#000" stroke-width="2.4"/>
<text x="45.60" y="426.50" font-size="8.4" text-anchor="middle" >***</text>
<text x="73.60" y="436.00" font-size="8.4" text-anchor="middle" >***</text>
<text x="102.00" y="440.50" font-size="8.4" text-anchor="middle" >***</text>
<rect x="130.30" y="332.50" width="1.60" height="115.60" fill="#000"/>
<rect x="130.30" y="446.50" width="77.80" height="1.60" fill="#000"/>
<rect x="126.50" y="332.50" width="4.60" height="1.40" fill="#000"/>
<text x="125.50" y="336.20" font-size="8.4" text-anchor="end" >50</text>
<rect x="126.50" y="355.30" width="4.60" height="1.40" fill="#000"/>
<text x="125.50" y="359.00" font-size="8.4" text-anchor="end" >40</text>
<rect x="126.50" y="378.10" width="4.60" height="1.40" fill="#000"/>
<text x="125.50" y="381.80" font-size="8.4" text-anchor="end" >30</text>
<rect x="126.50" y="400.90" width="4.60" height="1.40" fill="#000"/>
<text x="125.50" y="404.60" font-size="8.4" text-anchor="end" >20</text>
<rect x="126.50" y="423.70" width="4.60" height="1.40" fill="#000"/>
<text x="125.50" y="427.40" font-size="8.4" text-anchor="end" >10</text>
<rect x="126.50" y="446.60" width="4.60" height="1.40" fill="#000"/>
<text x="125.50" y="450.30" font-size="8.4" text-anchor="end" >0</text>
<rect x="142.80" y="447.30" width="1.40" height="4.60" fill="#000"/>
<text x="143.50" y="463.20" font-size="8.4" text-anchor="middle" >1</text>
<rect x="168.00" y="447.30" width="1.40" height="4.60" fill="#000"/>
<text x="168.70" y="463.20" font-size="8.4" text-anchor="middle" >2</text>
<rect x="193.30" y="447.30" width="1.40" height="4.60" fill="#000"/>
<text x="194.00" y="463.20" font-size="8.4" text-anchor="middle" >3</text>
<text x="171.00" y="344.20" font-size="8.4" text-anchor="middle" >T cells</text>
<rect x="142.55" y="401.50" width="1.90" height="10.80" fill="#000"/>
<rect x="138.30" y="401.50" width="10.40" height="1.90" fill="#000"/>
<rect x="167.75" y="349.50" width="1.90" height="24.20" fill="#000"/>
<rect x="163.50" y="349.50" width="10.40" height="1.90" fill="#000"/>
<rect x="193.05" y="380.00" width="1.90" height="15.40" fill="#000"/>
<rect x="188.80" y="380.00" width="10.40" height="1.90" fill="#000"/>
<polyline points="143.50,412.30 168.70,373.70 194.00,395.40" fill="none" stroke="#000" stroke-width="2.6"/>
<circle cx="143.50" cy="412.30" r="4.1" fill="none" stroke="#000" stroke-width="2.1"/>
<circle cx="168.70" cy="373.70" r="4.1" fill="none" stroke="#000" stroke-width="2.1"/>
<circle cx="194.00" cy="395.40" r="4.1" fill="none" stroke="#000" stroke-width="2.1"/>
<rect x="167.75" y="362.00" width="1.90" height="23.20" fill="#000"/>
<rect x="163.50" y="362.00" width="10.40" height="1.90" fill="#000"/>
<rect x="193.05" y="392.50" width="1.90" height="7.50" fill="#000"/>
<rect x="188.80" y="392.50" width="10.40" height="1.90" fill="#000"/>
<polyline points="143.50,418.40 168.70,385.20 194.00,400.00" fill="none" stroke="#000" stroke-width="2.6"/>
<rect x="139.20" y="414.10" width="8.6" height="8.6" fill="#d0d0d0" stroke="#000" stroke-width="2.4"/>
<rect x="164.40" y="380.90" width="8.6" height="8.6" fill="#d0d0d0" stroke="#000" stroke-width="2.4"/>
<rect x="189.70" y="395.70" width="8.6" height="8.6" fill="#d0d0d0" stroke="#000" stroke-width="2.4"/>
<rect x="142.55" y="421.00" width="1.90" height="9.50" fill="#000"/>
<rect x="138.30" y="421.00" width="10.40" height="1.90" fill="#000"/>
<rect x="167.75" y="396.70" width="1.90" height="5.80" fill="#000"/>
<rect x="163.50" y="396.70" width="10.40" height="1.90" fill="#000"/>
<polyline points="143.50,430.50 168.70,402.50 194.00,407.50" fill="none" stroke="#000" stroke-width="2.6"/>
<path d="M143.50,425.20L148.80,435.80L138.20,435.80Z M143.50,430.34L141.92,433.50L145.08,433.50Z" fill="#000" fill-rule="evenodd"/>
<path d="M168.70,397.20L174.00,407.80L163.40,407.80Z M168.70,402.34L167.12,405.50L170.28,405.50Z" fill="#000" fill-rule="evenodd"/>
<path d="M194.00,402.20L199.30,412.80L188.70,412.80Z M194.00,407.34L192.42,410.50L195.58,410.50Z" fill="#000" fill-rule="evenodd"/>
<rect x="193.05" y="411.40" width="1.90" height="7.60" fill="#000"/>
<rect x="188.80" y="411.40" width="10.40" height="1.90" fill="#000"/>
<polyline points="143.50,431.00 168.70,406.50 194.00,419.00" fill="none" stroke="#000" stroke-width="2.6"/>
<path d="M143.50,425.70L148.80,436.30L138.20,436.30Z M143.50,430.84L141.92,434.00L145.08,434.00Z" fill="#000" fill-rule="evenodd"/>
<path d="M168.70,401.20L174.00,411.80L163.40,411.80Z M168.70,406.34L167.12,409.50L170.28,409.50Z" fill="#000" fill-rule="evenodd"/>
<path d="M194.00,413.70L199.30,424.30L188.70,424.30Z M194.00,418.84L192.42,422.00L195.58,422.00Z" fill="#000" fill-rule="evenodd"/>
<rect x="233.00" y="332.20" width="1.60" height="115.90" fill="#000"/>
<rect x="233.00" y="446.50" width="77.80" height="1.60" fill="#000"/>
<rect x="229.20" y="332.20" width="4.60" height="1.40" fill="#000"/>
<text x="228.20" y="335.90" font-size="8.4" text-anchor="end" >100</text>
<rect x="229.20" y="355.10" width="4.60" height="1.40" fill="#000"/>
<text x="228.20" y="358.80" font-size="8.4" text-anchor="end" >80</text>
<rect x="229.20" y="378.00" width="4.60" height="1.40" fill="#000"/>
<text x="228.20" y="381.70" font-size="8.4" text-anchor="end" >60</text>
<rect x="229.20" y="400.80" width="4.60" height="1.40" fill="#000"/>
<text x="228.20" y="404.50" font-size="8.4" text-anchor="end" >40</text>
<rect x="229.20" y="423.70" width="4.60" height="1.40" fill="#000"/>
<text x="228.20" y="427.40" font-size="8.4" text-anchor="end" >20</text>
<rect x="229.20" y="446.60" width="4.60" height="1.40" fill="#000"/>
<text x="228.20" y="450.30" font-size="8.4" text-anchor="end" >0</text>
<rect x="246.20" y="447.30" width="1.40" height="4.60" fill="#000"/>
<text x="246.90" y="463.20" font-size="8.4" text-anchor="middle" >1</text>
<rect x="270.90" y="447.30" width="1.40" height="4.60" fill="#000"/>
<text x="271.60" y="463.20" font-size="8.4" text-anchor="middle" >2</text>
<rect x="296.50" y="447.30" width="1.40" height="4.60" fill="#000"/>
<text x="297.20" y="463.20" font-size="8.4" text-anchor="middle" >3</text>
<text x="279.80" y="344.20" font-size="8.4" text-anchor="middle" >B cells</text>
<polyline points="246.90,414.30 271.60,400.30 297.20,386.00" fill="none" stroke="#000" stroke-width="2.6"/>
<circle cx="246.90" cy="414.30" r="4.1" fill="none" stroke="#000" stroke-width="2.1"/>
<circle cx="271.60" cy="400.30" r="4.1" fill="none" stroke="#000" stroke-width="2.1"/>
<circle cx="297.20" cy="386.00" r="4.1" fill="none" stroke="#000" stroke-width="2.1"/>
<rect x="245.95" y="391.10" width="1.90" height="14.00" fill="#000"/>
<rect x="241.70" y="391.10" width="10.40" height="1.90" fill="#000"/>
<rect x="270.65" y="379.20" width="1.90" height="14.30" fill="#000"/>
<rect x="266.40" y="379.20" width="10.40" height="1.90" fill="#000"/>
<rect x="296.25" y="373.70" width="1.90" height="11.60" fill="#000"/>
<rect x="292.00" y="373.70" width="10.40" height="1.90" fill="#000"/>
<polyline points="246.90,405.10 271.60,393.50 297.20,385.30" fill="none" stroke="#000" stroke-width="2.6"/>
<rect x="242.60" y="400.80" width="8.6" height="8.6" fill="#d0d0d0" stroke="#000" stroke-width="2.4"/>
<rect x="267.30" y="389.20" width="8.6" height="8.6" fill="#d0d0d0" stroke="#000" stroke-width="2.4"/>
<rect x="292.90" y="381.00" width="8.6" height="8.6" fill="#d0d0d0" stroke="#000" stroke-width="2.4"/>
<rect x="270.65" y="425.00" width="1.90" height="5.00" fill="#000"/>
<rect x="266.40" y="425.00" width="10.40" height="1.90" fill="#000"/>
<rect x="296.25" y="414.80" width="1.90" height="6.70" fill="#000"/>
<rect x="292.00" y="414.80" width="10.40" height="1.90" fill="#000"/>
<polyline points="246.90,440.50 271.60,430.00 297.20,421.50" fill="none" stroke="#000" stroke-width="2.6"/>
<path d="M246.90,435.20L252.20,445.80L241.60,445.80Z M246.90,440.34L245.32,443.50L248.48,443.50Z" fill="#000" fill-rule="evenodd"/>
<path d="M271.60,424.70L276.90,435.30L266.30,435.30Z M271.60,429.84L270.02,433.00L273.18,433.00Z" fill="#000" fill-rule="evenodd"/>
<path d="M297.20,416.20L302.50,426.80L291.90,426.80Z M297.20,421.34L295.62,424.50L298.78,424.50Z" fill="#000" fill-rule="evenodd"/>
<rect x="270.65" y="426.00" width="1.90" height="3.00" fill="#000"/>
<rect x="266.40" y="426.00" width="10.40" height="1.90" fill="#000"/>
<polyline points="246.90,442.00 271.60,429.00 297.20,428.00" fill="none" stroke="#000" stroke-width="2.6"/>
<path d="M246.90,436.70L252.20,447.30L241.60,447.30Z M246.90,441.84L245.32,445.00L248.48,445.00Z" fill="#000" fill-rule="evenodd"/>
<path d="M271.60,423.70L276.90,434.30L266.30,434.30Z M271.60,428.84L270.02,432.00L273.18,432.00Z" fill="#000" fill-rule="evenodd"/>
<path d="M297.20,422.70L302.50,433.30L291.90,433.30Z M297.20,427.84L295.62,431.00L298.78,431.00Z" fill="#000" fill-rule="evenodd"/>
<rect x="333.20" y="332.20" width="1.60" height="115.90" fill="#000"/>
<rect x="333.20" y="446.50" width="77.80" height="1.60" fill="#000"/>
<rect x="329.40" y="332.20" width="4.60" height="1.40" fill="#000"/>
<text x="328.40" y="335.90" font-size="8.4" text-anchor="end" >100</text>
<rect x="329.40" y="355.10" width="4.60" height="1.40" fill="#000"/>
<text x="328.40" y="358.80" font-size="8.4" text-anchor="end" >80</text>
<rect x="329.40" y="378.00" width="4.60" height="1.40" fill="#000"/>
<text x="328.40" y="381.70" font-size="8.4" text-anchor="end" >60</text>
<rect x="329.40" y="400.80" width="4.60" height="1.40" fill="#000"/>
<text x="328.40" y="404.50" font-size="8.4" text-anchor="end" >40</text>
<rect x="329.40" y="423.70" width="4.60" height="1.40" fill="#000"/>
<text x="328.40" y="427.40" font-size="8.4" text-anchor="end" >20</text>
<rect x="329.40" y="446.60" width="4.60" height="1.40" fill="#000"/>
<text x="328.40" y="450.30" font-size="8.4" text-anchor="end" >0</text>
<rect x="345.60" y="447.30" width="1.40" height="4.60" fill="#000"/>
<text x="346.30" y="463.20" font-size="8.4" text-anchor="middle" >1</text>
<rect x="371.40" y="447.30" width="1.40" height="4.60" fill="#000"/>
<text x="372.10" y="463.20" font-size="8.4" text-anchor="middle" >2</text>
<rect x="396.70" y="447.30" width="1.40" height="4.60" fill="#000"/>
<text x="397.40" y="463.20" font-size="8.4" text-anchor="middle" >3</text>
<text x="389.80" y="344.20" font-size="8.4" text-anchor="middle" >M cells</text>
<rect x="345.35" y="344.20" width="1.90" height="6.80" fill="#000"/>
<rect x="341.10" y="344.20" width="10.40" height="1.90" fill="#000"/>
<rect x="371.15" y="362.50" width="1.90" height="8.50" fill="#000"/>
<rect x="366.90" y="362.50" width="10.40" height="1.90" fill="#000"/>
<rect x="396.45" y="366.30" width="1.90" height="7.00" fill="#000"/>
<rect x="392.20" y="366.30" width="10.40" height="1.90" fill="#000"/>
<polyline points="346.30,351.00 372.10,371.00 397.40,373.30" fill="none" stroke="#000" stroke-width="2.6"/>
<path d="M346.30,345.70L351.60,356.30L341.00,356.30Z M346.30,350.84L344.72,354.00L347.88,354.00Z" fill="#000" fill-rule="evenodd"/>
<path d="M372.10,365.70L377.40,376.30L366.80,376.30Z M372.10,370.84L370.52,374.00L373.68,374.00Z" fill="#000" fill-rule="evenodd"/>
<path d="M397.40,368.00L402.70,378.60L392.10,378.60Z M397.40,373.14L395.82,376.30L398.98,376.30Z" fill="#000" fill-rule="evenodd"/>
<polyline points="346.30,351.50 372.10,377.40 397.40,385.30" fill="none" stroke="#000" stroke-width="2.6"/>
<path d="M346.30,346.20L351.60,356.80L341.00,356.80Z M346.30,351.34L344.72,354.50L347.88,354.50Z" fill="#000" fill-rule="evenodd"/>
<path d="M372.10,372.10L377.40,382.70L366.80,382.70Z M372.10,377.24L370.52,380.40L373.68,380.40Z" fill="#000" fill-rule="evenodd"/>
<path d="M397.40,380.00L402.70,390.60L392.10,390.60Z M397.40,385.14L395.82,388.30L398.98,388.30Z" fill="#000" fill-rule="evenodd"/>
<rect x="345.35" y="375.80" width="1.90" height="8.90" fill="#000"/>
<rect x="341.10" y="375.80" width="10.40" height="1.90" fill="#000"/>
<polyline points="346.30,384.70 372.10,424.00 397.40,425.00" fill="none" stroke="#000" stroke-width="2.6"/>
<circle cx="346.30" cy="384.70" r="4.1" fill="none" stroke="#000" stroke-width="2.1"/>
<circle cx="372.10" cy="424.00" r="4.1" fill="none" stroke="#000" stroke-width="2.1"/>
<circle cx="397.40" cy="425.00" r="4.1" fill="none" stroke="#000" stroke-width="2.1"/>
<polyline points="346.30,395.50 372.10,424.00 397.40,421.00" fill="none" stroke="#000" stroke-width="2.6"/>
<rect x="342.00" y="391.20" width="8.6" height="8.6" fill="#d0d0d0" stroke="#000" stroke-width="2.4"/>
<rect x="367.80" y="419.70" width="8.6" height="8.6" fill="#d0d0d0" stroke="#000" stroke-width="2.4"/>
<rect x="393.10" y="416.70" width="8.6" height="8.6" fill="#d0d0d0" stroke="#000" stroke-width="2.4"/>
<rect x="437.60" y="332.50" width="1.60" height="114.60" fill="#000"/>
<rect x="437.60" y="445.50" width="76.40" height="1.60" fill="#000"/>
<rect x="433.80" y="332.50" width="4.60" height="1.40" fill="#000"/>
<text x="432.80" y="336.20" font-size="8.4" text-anchor="end" >15</text>
<rect x="433.80" y="369.90" width="4.60" height="1.40" fill="#000"/>
<text x="432.80" y="373.60" font-size="8.4" text-anchor="end" >10</text>
<rect x="433.80" y="407.70" width="4.60" height="1.40" fill="#000"/>
<text x="432.80" y="411.40" font-size="8.4" text-anchor="end" >5</text>
<rect x="433.80" y="445.60" width="4.60" height="1.40" fill="#000"/>
<text x="432.80" y="449.30" font-size="8.4" text-anchor="end" >0</text>
<rect x="456.50" y="446.30" width="1.40" height="4.20" fill="#000"/>
<rect x="493.70" y="446.30" width="1.40" height="4.20" fill="#000"/>
<rect x="444.50" y="394.20" width="10.80" height="52.10" fill="#000"/>
<rect x="446.40" y="396.10" width="7.00" height="50.20" fill="#fff"/>
<rect x="448.95" y="371.40" width="1.90" height="22.80" fill="#000"/>
<rect x="446.40" y="371.40" width="7.00" height="1.90" fill="#000"/>
<rect x="458.10" y="440.50" width="11.70" height="5.80" fill="#000"/>
<rect x="460.00" y="442.40" width="7.90" height="3.90" fill="#fff"/>
<rect x="481.70" y="385.70" width="11.00" height="60.60" fill="#000"/>
<rect x="483.60" y="387.60" width="7.20" height="58.70" fill="#fff"/>
<rect x="486.25" y="366.60" width="1.90" height="19.10" fill="#000"/>
<rect x="483.70" y="366.60" width="7.00" height="1.90" fill="#000"/>
<rect x="495.90" y="440.50" width="11.90" height="5.80" fill="#000"/>
<rect x="497.80" y="442.40" width="8.10" height="3.90" fill="#fff"/>
<text x="464.00" y="439.40" font-size="8.4" text-anchor="middle" >***</text>
<text x="502.30" y="439.40" font-size="8.4" text-anchor="middle" >***</text>
<text x="458.40" y="462.40" font-size="8.4" text-anchor="middle" >p16<tspan dy="-3.4" font-size="5.6">+/+</tspan></text>
<text x="497.60" y="462.40" font-size="8.4" text-anchor="middle" >p16<tspan dy="-3.4" font-size="5.6">-/-</tspan></text>
<text transform="translate(420.8,390.0) rotate(-90)" font-size="7.2" text-anchor="middle">RU/10<tspan dy="-2.8" font-size="5.6">6</tspan></text>
<rect x="477.70" y="331.70" width="18.30" height="6.80" rx="1.3" fill="#000"/>
<rect x="479.90" y="333.90" width="13.90" height="2.40" fill="#fff"/>
<rect x="477.70" y="341.80" width="18.30" height="6.80" rx="1.3" fill="#000"/>
<rect x="479.90" y="344.00" width="13.90" height="2.40" fill="#fff"/>
<text x="504.10" y="338.30" font-size="8.0" text-anchor="start" >CTL</text>
<text x="504.10" y="348.30" font-size="8.0" text-anchor="start" >TBI</text>
<text transform="translate(7.6,389.8) rotate(-90)" font-size="8.8" text-anchor="middle">Donor derived cells (%)</text>
<text x="231.00" y="474.40" font-size="8.6" text-anchor="middle" >Time after BMT (months)</text>
<rect x="36.90" y="319.50" width="17.00" height="2.40" fill="#000"/>
<circle cx="45.20" cy="320.70" r="4.2" fill="none" stroke="#000" stroke-width="2.0"/>
<text x="62.70" y="325.00" font-size="8.4" text-anchor="start" >p16<tspan dy="-3.4" font-size="5.6">+/+</tspan></text>
<rect x="90.60" y="320.00" width="15.50" height="2.40" fill="#000"/>
<path d="M98.30,315.10L103.60,325.30L93.00,325.30Z M98.30,319.44L96.29,323.30L100.31,323.30Z" fill="#000" fill-rule="evenodd"/>
<text x="115.40" y="325.00" font-size="8.4" text-anchor="start" >p16<tspan dy="-3.4" font-size="5.6">+/+</tspan><tspan dy="3.4">/TBI</tspan></text>
<rect x="159.40" y="320.00" width="17.60" height="2.40" fill="#000"/>
<rect x="164.4" y="317.4" width="7.6" height="7.6" fill="#d0d0d0" stroke="#000" stroke-width="2.0"/>
<text x="185.00" y="325.00" font-size="8.2" text-anchor="start" >p16-/-</text>
<rect x="209.80" y="320.30" width="12.40" height="2.40" fill="#000"/>
<path d="M216.00,316.90L220.50,324.50L211.50,324.50Z M216.00,319.84L214.13,323.00L217.87,323.00Z" fill="#000" fill-rule="evenodd"/>
<text x="236.00" y="325.00" font-size="8.4" text-anchor="start" >p16<tspan dy="-3.4" font-size="5.6">-/-</tspan><tspan dy="3.4">/TBI</tspan></text>
</svg>
</body></html>
